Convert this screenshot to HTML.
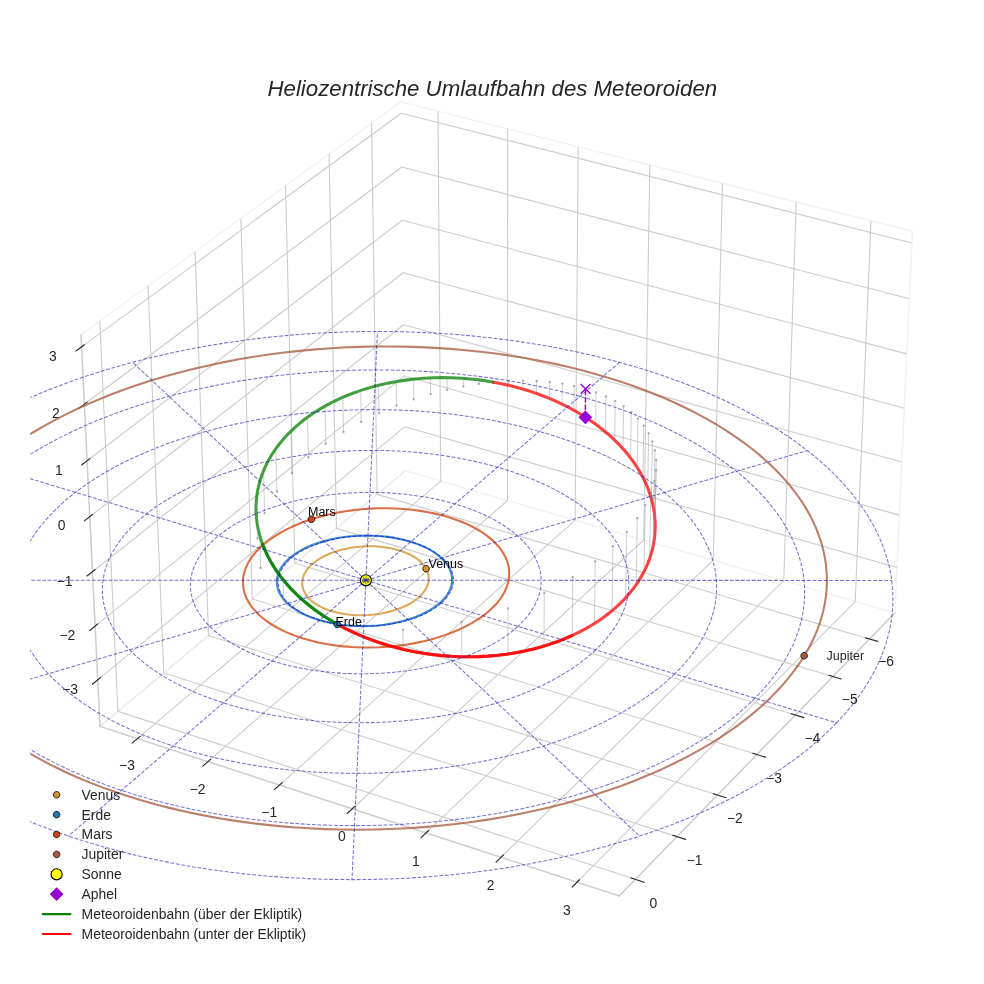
<!DOCTYPE html>
<html lang="de"><head><meta charset="utf-8"><title>Heliozentrische Umlaufbahn des Meteoroiden</title>
<style>html,body{margin:0;padding:0;background:#fff;}body{width:984px;height:984px;overflow:hidden;}svg{display:block;}</style>
</head><body>
<svg width="984" height="984" viewBox="0 0 708.48 708.48" version="1.1">
  <defs>
  <style type="text/css">*{stroke-linejoin: round; stroke-linecap: butt}</style>
 </defs>
 <g id="figure_1">
  <g id="patch_1">
   <path d="M 0 708.48 L 708.48 708.48 L 708.48 0 L 0 0 z
" style="fill: #ffffff"/>
  </g>
  <g id="patch_2">
   <path d="M 21.76 687.04 L 687.19 687.04 L 687.19 21.61 L 21.76 21.61 z
" style="fill: #ffffff"/>
  </g>
  <g id="pane3d_1">
   <g id="patch_3">
    <path d="M 291.81 338.96 L 72.00 522.97 L 58.31 241.03 L 288.73 73.35 " style="fill: none; stroke: #f2f2f2; stroke-linejoin: miter"/>
   </g>
  </g>
  <g id="pane3d_2">
   <g id="patch_4">
    <path d="M 291.81 338.96 L 644.27 441.32 L 656.95 166.47 L 288.73 73.35 " style="fill: none; stroke: #e6e6e6; stroke-opacity: 0.5; stroke-linejoin: miter"/>
   </g>
  </g>
  <g id="pane3d_3">
   <g id="patch_5">
    <path d="M 644.27 441.32 L 445.82 645.09 L 72.00 522.97 L 291.81 338.96 " style="fill: none; stroke: #ececec; stroke-linejoin: miter"/>
   </g>
  </g>
  <g id="grid3d_1">
   <g id="Line3DCollection_1">
    <path d="M 98.97 531.78 L 317.35 346.38 L 315.36 80.08 " style="fill: none; stroke: #cccccc; stroke-width: 0.8"/>
    <path d="M 149.77 548.38 L 365.39 360.33 L 365.48 92.76 " style="fill: none; stroke: #cccccc; stroke-width: 0.8"/>
    <path d="M 201.32 565.22 L 414.10 374.47 L 416.31 105.61 " style="fill: none; stroke: #cccccc; stroke-width: 0.8"/>
    <path d="M 253.65 582.31 L 463.47 388.81 L 467.87 118.65 " style="fill: none; stroke: #cccccc; stroke-width: 0.8"/>
    <path d="M 306.77 599.67 L 513.53 403.35 L 520.18 131.88 " style="fill: none; stroke: #cccccc; stroke-width: 0.8"/>
    <path d="M 360.70 617.29 L 564.29 418.09 L 573.25 145.30 " style="fill: none; stroke: #cccccc; stroke-width: 0.8"/>
    <path d="M 415.46 635.17 L 615.76 433.04 L 627.10 158.92 " style="fill: none; stroke: #cccccc; stroke-width: 0.8"/>
   </g>
  </g>
  <g id="grid3d_2">
   <g id="Line3DCollection_2">
    <path d="M 267.54 88.77 L 271.52 355.94 L 626.03 460.05 " style="fill: none; stroke: #cccccc; stroke-width: 0.8"/>
    <path d="M 236.95 111.04 L 242.26 380.44 L 599.69 487.10 " style="fill: none; stroke: #cccccc; stroke-width: 0.8"/>
    <path d="M 205.58 133.86 L 212.29 405.53 L 572.69 514.83 " style="fill: none; stroke: #cccccc; stroke-width: 0.8"/>
    <path d="M 173.42 157.26 L 181.60 431.22 L 544.99 543.26 " style="fill: none; stroke: #cccccc; stroke-width: 0.8"/>
    <path d="M 140.44 181.27 L 150.15 457.55 L 516.58 572.44 " style="fill: none; stroke: #cccccc; stroke-width: 0.8"/>
    <path d="M 106.59 205.90 L 117.91 484.54 L 487.42 602.38 " style="fill: none; stroke: #cccccc; stroke-width: 0.8"/>
    <path d="M 71.85 231.18 L 84.87 512.20 L 457.49 633.11 " style="fill: none; stroke: #cccccc; stroke-width: 0.8"/>
   </g>
  </g>
  <g id="grid3d_3">
   <g id="Line3DCollection_3">
    <path d="M 645.78 408.62 L 291.44 307.30 L 70.37 489.48 " style="fill: none; stroke: #cccccc; stroke-width: 0.8"/>
    <path d="M 647.52 370.87 L 291.02 270.77 L 68.50 450.80 " style="fill: none; stroke: #cccccc; stroke-width: 0.8"/>
    <path d="M 649.28 332.66 L 290.59 233.82 L 66.59 411.63 " style="fill: none; stroke: #cccccc; stroke-width: 0.8"/>
    <path d="M 651.07 293.97 L 290.16 196.42 L 64.67 371.94 " style="fill: none; stroke: #cccccc; stroke-width: 0.8"/>
    <path d="M 652.88 254.79 L 289.72 158.58 L 62.72 331.74 " style="fill: none; stroke: #cccccc; stroke-width: 0.8"/>
    <path d="M 654.71 215.12 L 289.28 120.28 L 60.74 291.01 " style="fill: none; stroke: #cccccc; stroke-width: 0.8"/>
    <path d="M 656.56 174.94 L 288.83 81.52 L 58.74 249.74 " style="fill: none; stroke: #cccccc; stroke-width: 0.8"/>
   </g>
  </g>
  <g id="axis3d_1">
   <g id="line2d_1">
    <path d="M 72.00 522.97 L 445.82 645.09 " style="fill: none; stroke: #cccccc; stroke-linecap: round"/>
   </g>
   <g id="xtick_1">
    <g id="line2d_2">
     <path d="M 363.46 345.34 " clip-path="url(#p9b2859fcdf)" style="fill: none; stroke: #cccccc; stroke-width: 0.8; stroke-linecap: round"/>
    </g>
    <g id="line2d_3">
     <path d="M 100.87 530.17 L 95.16 535.02 " style="fill: none; stroke: #262626; stroke-width: 0.8; stroke-linecap: round"/>
    </g>
    <g id="text_1">
     <text style="font-size: 10px; font-family: 'Liberation Sans', sans-serif; text-anchor: middle; fill: #262626" x="91.45" y="554.72" transform="rotate(-0 91.45 554.72)">−3</text>
    </g>
   </g>
   <g id="xtick_2">
    <g id="line2d_4">
     <path d="M 363.46 345.34 " clip-path="url(#p9b2859fcdf)" style="fill: none; stroke: #cccccc; stroke-width: 0.8; stroke-linecap: round"/>
    </g>
    <g id="line2d_5">
     <path d="M 151.65 546.74 L 146.00 551.66 " style="fill: none; stroke: #262626; stroke-width: 0.8; stroke-linecap: round"/>
    </g>
    <g id="text_2">
     <text style="font-size: 10px; font-family: 'Liberation Sans', sans-serif; text-anchor: middle; fill: #262626" x="142.27" y="571.45" transform="rotate(-0 142.27 571.45)">−2</text>
    </g>
   </g>
   <g id="xtick_3">
    <g id="line2d_6">
     <path d="M 363.46 345.34 " clip-path="url(#p9b2859fcdf)" style="fill: none; stroke: #cccccc; stroke-width: 0.8; stroke-linecap: round"/>
    </g>
    <g id="line2d_7">
     <path d="M 203.18 563.55 L 197.60 568.55 " style="fill: none; stroke: #262626; stroke-width: 0.8; stroke-linecap: round"/>
    </g>
    <g id="text_3">
     <text style="font-size: 10px; font-family: 'Liberation Sans', sans-serif; text-anchor: middle; fill: #262626" x="193.85" y="588.44" transform="rotate(-0 193.85 588.44)">−1</text>
    </g>
   </g>
   <g id="xtick_4">
    <g id="line2d_8">
     <path d="M 363.46 345.34 " clip-path="url(#p9b2859fcdf)" style="fill: none; stroke: #cccccc; stroke-width: 0.8; stroke-linecap: round"/>
    </g>
    <g id="line2d_9">
     <path d="M 255.48 580.62 L 249.97 585.70 " style="fill: none; stroke: #262626; stroke-width: 0.8; stroke-linecap: round"/>
    </g>
    <g id="text_4">
     <text style="font-size: 10px; font-family: 'Liberation Sans', sans-serif; text-anchor: middle; fill: #262626" x="246.20" y="605.68" transform="rotate(-0 246.20 605.68)">0</text>
    </g>
   </g>
   <g id="xtick_5">
    <g id="line2d_10">
     <path d="M 363.46 345.34 " clip-path="url(#p9b2859fcdf)" style="fill: none; stroke: #cccccc; stroke-width: 0.8; stroke-linecap: round"/>
    </g>
    <g id="line2d_11">
     <path d="M 308.57 597.95 L 303.15 603.10 " style="fill: none; stroke: #262626; stroke-width: 0.8; stroke-linecap: round"/>
    </g>
    <g id="text_5">
     <text style="font-size: 10px; font-family: 'Liberation Sans', sans-serif; text-anchor: middle; fill: #262626" x="299.34" y="623.18" transform="rotate(-0 299.34 623.18)">1</text>
    </g>
   </g>
   <g id="xtick_6">
    <g id="line2d_12">
     <path d="M 363.46 345.34 " clip-path="url(#p9b2859fcdf)" style="fill: none; stroke: #cccccc; stroke-width: 0.8; stroke-linecap: round"/>
    </g>
    <g id="line2d_13">
     <path d="M 362.48 615.54 L 357.13 620.78 " style="fill: none; stroke: #262626; stroke-width: 0.8; stroke-linecap: round"/>
    </g>
    <g id="text_6">
     <text style="font-size: 10px; font-family: 'Liberation Sans', sans-serif; text-anchor: middle; fill: #262626" x="353.30" y="640.95" transform="rotate(-0 353.30 640.95)">2</text>
    </g>
   </g>
   <g id="xtick_7">
    <g id="line2d_14">
     <path d="M 363.46 345.34 " clip-path="url(#p9b2859fcdf)" style="fill: none; stroke: #cccccc; stroke-width: 0.8; stroke-linecap: round"/>
    </g>
    <g id="line2d_15">
     <path d="M 417.21 633.41 L 411.95 638.72 " style="fill: none; stroke: #262626; stroke-width: 0.8; stroke-linecap: round"/>
    </g>
    <g id="text_7">
     <text style="font-size: 10px; font-family: 'Liberation Sans', sans-serif; text-anchor: middle; fill: #262626" x="408.09" y="659.00" transform="rotate(-0 408.09 659.00)">3</text>
    </g>
   </g>
  </g>
  <g id="axis3d_2">
   <g id="line2d_16">
    <path d="M 644.27 441.32 L 445.82 645.09 " style="fill: none; stroke: #cccccc; stroke-linecap: round"/>
   </g>
   <g id="xtick_8">
    <g id="line2d_17">
     <path d="M 363.46 345.34 " clip-path="url(#p9b2859fcdf)" style="fill: none; stroke: #cccccc; stroke-width: 0.8; stroke-linecap: round"/>
    </g>
    <g id="line2d_18">
     <path d="M 623.05 459.18 L 631.99 461.80 " style="fill: none; stroke: #262626; stroke-width: 0.8; stroke-linecap: round"/>
    </g>
    <g id="text_8">
     <text style="font-size: 10px; font-family: 'Liberation Sans', sans-serif; text-anchor: middle; fill: #262626" x="638.01" y="479.70" transform="rotate(-0 638.01 479.70)">−6</text>
    </g>
   </g>
   <g id="xtick_9">
    <g id="line2d_19">
     <path d="M 363.46 345.34 " clip-path="url(#p9b2859fcdf)" style="fill: none; stroke: #cccccc; stroke-width: 0.8; stroke-linecap: round"/>
    </g>
    <g id="line2d_20">
     <path d="M 596.69 486.20 L 605.70 488.89 " style="fill: none; stroke: #262626; stroke-width: 0.8; stroke-linecap: round"/>
    </g>
    <g id="text_9">
     <text style="font-size: 10px; font-family: 'Liberation Sans', sans-serif; text-anchor: middle; fill: #262626" x="611.81" y="506.91" transform="rotate(-0 611.81 506.91)">−5</text>
    </g>
   </g>
   <g id="xtick_10">
    <g id="line2d_21">
     <path d="M 363.46 345.34 " clip-path="url(#p9b2859fcdf)" style="fill: none; stroke: #cccccc; stroke-width: 0.8; stroke-linecap: round"/>
    </g>
    <g id="line2d_22">
     <path d="M 569.65 513.91 L 578.75 516.67 " style="fill: none; stroke: #262626; stroke-width: 0.8; stroke-linecap: round"/>
    </g>
    <g id="text_10">
     <text style="font-size: 10px; font-family: 'Liberation Sans', sans-serif; text-anchor: middle; fill: #262626" x="584.95" y="534.81" transform="rotate(-0 584.95 534.81)">−4</text>
    </g>
   </g>
   <g id="xtick_11">
    <g id="line2d_23">
     <path d="M 363.46 345.34 " clip-path="url(#p9b2859fcdf)" style="fill: none; stroke: #cccccc; stroke-width: 0.8; stroke-linecap: round"/>
    </g>
    <g id="line2d_24">
     <path d="M 541.93 542.32 L 551.12 545.15 " style="fill: none; stroke: #262626; stroke-width: 0.8; stroke-linecap: round"/>
    </g>
    <g id="text_11">
     <text style="font-size: 10px; font-family: 'Liberation Sans', sans-serif; text-anchor: middle; fill: #262626" x="557.41" y="563.41" transform="rotate(-0 557.41 563.41)">−3</text>
    </g>
   </g>
   <g id="xtick_12">
    <g id="line2d_25">
     <path d="M 363.46 345.34 " clip-path="url(#p9b2859fcdf)" style="fill: none; stroke: #cccccc; stroke-width: 0.8; stroke-linecap: round"/>
    </g>
    <g id="line2d_26">
     <path d="M 513.49 571.47 L 522.76 574.38 " style="fill: none; stroke: #262626; stroke-width: 0.8; stroke-linecap: round"/>
    </g>
    <g id="text_12">
     <text style="font-size: 10px; font-family: 'Liberation Sans', sans-serif; text-anchor: middle; fill: #262626" x="529.15" y="592.76" transform="rotate(-0 529.15 592.76)">−2</text>
    </g>
   </g>
   <g id="xtick_13">
    <g id="line2d_27">
     <path d="M 363.46 345.34 " clip-path="url(#p9b2859fcdf)" style="fill: none; stroke: #cccccc; stroke-width: 0.8; stroke-linecap: round"/>
    </g>
    <g id="line2d_28">
     <path d="M 484.31 601.39 L 493.66 604.37 " style="fill: none; stroke: #262626; stroke-width: 0.8; stroke-linecap: round"/>
    </g>
    <g id="text_13">
     <text style="font-size: 10px; font-family: 'Liberation Sans', sans-serif; text-anchor: middle; fill: #262626" x="500.15" y="622.88" transform="rotate(-0 500.15 622.88)">−1</text>
    </g>
   </g>
   <g id="xtick_14">
    <g id="line2d_29">
     <path d="M 363.46 345.34 " clip-path="url(#p9b2859fcdf)" style="fill: none; stroke: #cccccc; stroke-width: 0.8; stroke-linecap: round"/>
    </g>
    <g id="line2d_30">
     <path d="M 454.35 632.10 L 463.78 635.16 " style="fill: none; stroke: #262626; stroke-width: 0.8; stroke-linecap: round"/>
    </g>
    <g id="text_14">
     <text style="font-size: 10px; font-family: 'Liberation Sans', sans-serif; text-anchor: middle; fill: #262626" x="470.38" y="653.80" transform="rotate(-0 470.38 653.80)">0</text>
    </g>
   </g>
  </g>
  <g id="axis3d_3">
   <g id="line2d_31">
    <path d="M 72.00 522.97 L 58.31 241.03 " style="fill: none; stroke: #cccccc; stroke-linecap: round"/>
   </g>
   <g id="xtick_15">
    <g id="line2d_32">
     <path d="M 363.46 345.34 " style="fill: none; stroke: #cccccc; stroke-width: 0.8; stroke-linecap: round"/>
    </g>
    <g id="line2d_33">
     <path d="M 72.30 487.89 L 66.51 492.66 " style="fill: none; stroke: #262626; stroke-width: 0.8; stroke-linecap: round"/>
    </g>
    <g id="text_15">
     <text style="font-size: 10px; font-family: 'Liberation Sans', sans-serif; text-anchor: middle; fill: #262626" x="50.53" y="499.51" transform="rotate(-0 50.53 499.51)">−3</text>
    </g>
   </g>
   <g id="xtick_16">
    <g id="line2d_34">
     <path d="M 363.46 345.34 " style="fill: none; stroke: #cccccc; stroke-width: 0.8; stroke-linecap: round"/>
    </g>
    <g id="line2d_35">
     <path d="M 70.44 449.23 L 64.61 453.95 " style="fill: none; stroke: #262626; stroke-width: 0.8; stroke-linecap: round"/>
    </g>
    <g id="text_16">
     <text style="font-size: 10px; font-family: 'Liberation Sans', sans-serif; text-anchor: middle; fill: #262626" x="48.52" y="460.81" transform="rotate(-0 48.52 460.81)">−2</text>
    </g>
   </g>
   <g id="xtick_17">
    <g id="line2d_36">
     <path d="M 363.46 345.34 " style="fill: none; stroke: #cccccc; stroke-width: 0.8; stroke-linecap: round"/>
    </g>
    <g id="line2d_37">
     <path d="M 68.55 410.07 L 62.68 414.73 " style="fill: none; stroke: #262626; stroke-width: 0.8; stroke-linecap: round"/>
    </g>
    <g id="text_17">
     <text style="font-size: 10px; font-family: 'Liberation Sans', sans-serif; text-anchor: middle; fill: #262626" x="46.49" y="421.60" transform="rotate(-0 46.49 421.60)">−1</text>
    </g>
   </g>
   <g id="xtick_18">
    <g id="line2d_38">
     <path d="M 363.46 345.34 " style="fill: none; stroke: #cccccc; stroke-width: 0.8; stroke-linecap: round"/>
    </g>
    <g id="line2d_39">
     <path d="M 66.64 370.41 L 60.72 375.01 " style="fill: none; stroke: #262626; stroke-width: 0.8; stroke-linecap: round"/>
    </g>
    <g id="text_18">
     <text style="font-size: 10px; font-family: 'Liberation Sans', sans-serif; text-anchor: middle; fill: #262626" x="44.43" y="381.88" transform="rotate(-0 44.43 381.88)">0</text>
    </g>
   </g>
   <g id="xtick_19">
    <g id="line2d_40">
     <path d="M 363.46 345.34 " style="fill: none; stroke: #cccccc; stroke-width: 0.8; stroke-linecap: round"/>
    </g>
    <g id="line2d_41">
     <path d="M 64.70 330.23 L 58.74 334.77 " style="fill: none; stroke: #262626; stroke-width: 0.8; stroke-linecap: round"/>
    </g>
    <g id="text_19">
     <text style="font-size: 10px; font-family: 'Liberation Sans', sans-serif; text-anchor: middle; fill: #262626" x="42.34" y="341.64" transform="rotate(-0 42.34 341.64)">1</text>
    </g>
   </g>
   <g id="xtick_20">
    <g id="line2d_42">
     <path d="M 363.46 345.34 " style="fill: none; stroke: #cccccc; stroke-width: 0.8; stroke-linecap: round"/>
    </g>
    <g id="line2d_43">
     <path d="M 62.74 289.51 L 56.74 294.00 " style="fill: none; stroke: #262626; stroke-width: 0.8; stroke-linecap: round"/>
    </g>
    <g id="text_20">
     <text style="font-size: 10px; font-family: 'Liberation Sans', sans-serif; text-anchor: middle; fill: #262626" x="40.23" y="300.87" transform="rotate(-0 40.23 300.87)">2</text>
    </g>
   </g>
   <g id="xtick_21">
    <g id="line2d_44">
     <path d="M 363.46 345.34 " style="fill: none; stroke: #cccccc; stroke-width: 0.8; stroke-linecap: round"/>
    </g>
    <g id="line2d_45">
     <path d="M 60.75 248.27 L 54.70 252.69 " style="fill: none; stroke: #262626; stroke-width: 0.8; stroke-linecap: round"/>
    </g>
    <g id="text_21">
     <text style="font-size: 10px; font-family: 'Liberation Sans', sans-serif; text-anchor: middle; fill: #262626" x="38.09" y="259.57" transform="rotate(-0 38.09 259.57)">3</text>
    </g>
   </g>
  </g>
  <g id="axes_1">
   <g id="line2d_46">
        <g clip-path="url(#p9b2859fcdf)">
     <path d="M 0 4 C 1.06 4 2.07 3.57 2.82 2.82 C 3.57 2.07 4 1.06 4 0 C 4 -1.06 3.57 -2.07 2.82 -2.82 C 2.07 -3.57 1.06 -4 0 -4 C -1.06 -4 -2.07 -3.57 -2.82 -2.82 C -3.57 -2.07 -4 -1.06 -4 0 C -4 1.06 -3.57 2.07 -2.82 2.82 C -2.07 3.57 -1.06 4 0 4 z
" transform="translate(263.45 417.84)" style="fill: #ffff00; stroke: #000000; stroke-width: 0.8; stroke: #000000; stroke-width: 0.8"/>
    </g>
   </g>
   <g id="line2d_47">
    <path d="M 307.91 411.76 L 307.21 410.11 L 306.30 408.50 L 305.18 406.94 L 303.68 405.26 L 301.94 403.65 L 299.97 402.12 L 297.77 400.70 L 295.09 399.24 L 292.18 397.92 L 289.05 396.75 L 285.73 395.74 L 282.24 394.90 L 278.24 394.17 L 274.10 393.66 L 269.87 393.36 L 265.57 393.29 L 261.25 393.44 L 256.94 393.81 L 252.68 394.40 L 248.52 395.21 L 244.48 396.22 L 240.61 397.44 L 237.26 398.71 L 234.10 400.12 L 231.16 401.68 L 228.46 403.36 L 226.02 405.15 L 224.06 406.86 L 222.34 408.63 L 220.86 410.46 L 219.65 412.35 L 218.80 414.05 L 218.17 415.78 L 217.75 417.52 L 217.56 419.27 L 217.60 421.01 L 217.86 422.74 L 218.34 424.45 L 219.05 426.12 L 219.97 427.76 L 221.11 429.35 L 222.47 430.89 L 224.23 432.55 L 226.24 434.11 L 228.49 435.57 L 230.95 436.93 L 233.93 438.29 L 237.14 439.50 L 240.55 440.54 L 244.13 441.41 L 247.87 442.09 L 251.72 442.59 L 256.07 442.92 L 260.47 443.01 L 264.90 442.86 L 269.31 442.49 L 273.66 441.88 L 277.90 441.05 L 282.00 440.01 L 285.58 438.89 L 288.97 437.61 L 292.17 436.17 L 295.13 434.61 L 297.85 432.91 L 300.30 431.11 L 302.26 429.40 L 303.98 427.63 L 305.44 425.80 L 306.65 423.92 L 307.49 422.23 L 308.12 420.52 L 308.53 418.79 L 308.72 417.07 L 308.70 415.35 L 308.45 413.64 L 307.99 411.96 L 307.91 411.76 L 307.91 411.76 " clip-path="url(#p9b2859fcdf)" style="fill: none; stroke: #d2922c; stroke-opacity: 0.78; stroke-width: 1.5; stroke-linecap: round"/>
   </g>
   <g id="line2d_48">
    <path d="M 322.58 427.30 L 323.62 425.39 L 324.44 423.46 L 325.04 421.52 L 325.40 419.56 L 325.54 417.60 L 325.45 415.64 L 325.13 413.70 L 324.59 411.77 L 323.82 409.86 L 322.83 407.98 L 321.63 406.15 L 320.21 404.35 L 318.34 402.36 L 316.20 400.45 L 313.82 398.61 L 311.19 396.87 L 308.33 395.23 L 304.86 393.52 L 301.13 391.94 L 297.17 390.53 L 293.01 389.28 L 288.65 388.20 L 284.14 387.29 L 279.49 386.57 L 274.74 386.04 L 269.36 385.68 L 263.93 385.56 L 258.47 385.68 L 253.04 386.05 L 247.67 386.65 L 242.93 387.40 L 238.30 388.34 L 233.80 389.47 L 229.48 390.77 L 225.36 392.24 L 221.45 393.88 L 217.80 395.67 L 214.78 397.38 L 211.99 399.19 L 209.45 401.10 L 207.17 403.10 L 205.15 405.18 L 203.63 407.05 L 202.32 408.96 L 201.25 410.92 L 200.40 412.90 L 199.80 414.90 L 199.43 416.92 L 199.31 418.94 L 199.43 420.97 L 199.80 422.98 L 200.40 424.97 L 201.25 426.94 L 202.33 428.88 L 203.65 430.77 L 205.19 432.62 L 206.96 434.41 L 209.24 436.38 L 211.79 438.26 L 214.59 440.04 L 217.64 441.70 L 220.92 443.25 L 224.40 444.66 L 228.54 446.10 L 232.90 447.35 L 237.44 448.42 L 242.13 449.30 L 246.96 449.97 L 251.87 450.45 L 256.84 450.72 L 261.85 450.78 L 266.85 450.64 L 271.82 450.30 L 276.72 449.76 L 281.52 449.01 L 286.20 448.08 L 290.73 446.97 L 295.07 445.68 L 299.21 444.22 L 303.11 442.60 L 306.76 440.83 L 310.13 438.93 L 312.88 437.14 L 315.39 435.26 L 317.63 433.29 L 319.62 431.26 L 321.32 429.17 L 322.58 427.30 L 322.58 427.30 " clip-path="url(#p9b2859fcdf)" style="fill: none; stroke: #1f77b4; stroke-opacity: 0.85; stroke-width: 1.5; stroke-linecap: round"/>
   </g>
   <g id="line2d_49">
    <path d="M 190.95 446.42 L 194.06 448.62 L 197.43 450.72 L 201.03 452.72 L 204.87 454.60 L 208.93 456.36 L 213.19 458.00 L 218.31 459.71 L 223.67 461.23 L 229.25 462.57 L 235.04 463.71 L 241.00 464.65 L 247.13 465.38 L 253.38 465.89 L 259.75 466.18 L 266.20 466.24 L 272.70 466.07 L 279.23 465.67 L 285.76 465.04 L 292.25 464.17 L 298.68 463.06 L 305.01 461.72 L 310.44 460.36 L 315.75 458.82 L 320.91 457.11 L 325.90 455.23 L 330.70 453.19 L 335.29 450.99 L 339.64 448.65 L 343.74 446.16 L 347.03 443.92 L 350.10 441.59 L 352.94 439.18 L 355.55 436.68 L 357.90 434.11 L 359.99 431.48 L 361.80 428.80 L 363.34 426.07 L 364.41 423.76 L 365.27 421.43 L 365.92 419.09 L 366.37 416.73 L 366.61 414.37 L 366.63 412.01 L 366.44 409.66 L 366.04 407.32 L 365.42 404.99 L 364.59 402.69 L 363.55 400.42 L 362.31 398.18 L 360.85 395.98 L 359.20 393.83 L 356.95 391.31 L 354.42 388.87 L 351.63 386.53 L 348.58 384.28 L 345.28 382.13 L 341.74 380.10 L 337.99 378.18 L 334.03 376.39 L 329.87 374.73 L 324.80 372.96 L 319.51 371.38 L 314.03 369.99 L 308.39 368.81 L 302.61 367.82 L 296.72 367.05 L 290.74 366.47 L 284.71 366.11 L 278.65 365.94 L 272.58 365.98 L 266.54 366.22 L 260.54 366.66 L 254.61 367.28 L 248.77 368.10 L 242.24 369.25 L 236.67 370.44 L 231.26 371.79 L 226.02 373.30 L 220.97 374.97 L 216.12 376.77 L 211.50 378.71 L 207.11 380.77 L 202.97 382.95 L 199.09 385.23 L 195.47 387.61 L 192.12 390.08 L 189.06 392.62 L 186.29 395.24 L 183.81 397.91 L 181.93 400.25 L 180.26 402.61 L 178.82 405.01 L 177.61 407.42 L 176.62 409.84 L 175.86 412.28 L 175.32 414.72 L 175.02 417.16 L 174.94 419.59 L 175.08 422.01 L 175.45 424.41 L 176.04 426.80 L 176.85 429.15 L 177.88 431.47 L 179.13 433.75 L 180.59 436.00 L 182.25 438.19 L 184.13 440.34 L 186.57 442.77 L 189.28 445.12 L 190.95 446.42 L 190.95 446.42 " clip-path="url(#p9b2859fcdf)" style="fill: none; stroke: #d1450f; stroke-opacity: 0.78; stroke-width: 1.5; stroke-linecap: round"/>
   </g>
   <g id="line2d_50">
    <path d="M 164.88 590.30 L 176.12 591.95 L 187.48 593.39 L 198.95 594.62 L 210.52 595.62 L 222.16 596.40 L 233.88 596.95 L 245.64 597.28 L 257.44 597.39 L 269.26 597.27 L 281.08 596.92 L 292.89 596.35 L 304.67 595.55 L 316.40 594.53 L 328.07 593.28 L 339.67 591.82 L 351.18 590.13 L 362.57 588.22 L 373.85 586.10 L 384.98 583.77 L 395.97 581.22 L 406.78 578.47 L 417.41 575.52 L 427.85 572.37 L 438.07 569.02 L 448.07 565.49 L 457.83 561.77 L 467.34 557.88 L 476.59 553.81 L 485.56 549.57 L 494.25 545.17 L 502.63 540.61 L 510.71 535.90 L 518.46 531.05 L 525.89 526.06 L 531.24 522.24 L 536.39 518.34 L 541.35 514.38 L 546.11 510.35 L 550.66 506.26 L 555.00 502.12 L 559.13 497.92 L 563.05 493.67 L 566.75 489.37 L 570.24 485.03 L 573.51 480.64 L 576.55 476.22 L 579.37 471.76 L 581.97 467.27 L 584.33 462.75 L 586.47 458.21 L 588.38 453.65 L 590.07 449.07 L 591.52 444.47 L 592.73 439.86 L 593.72 435.25 L 594.48 430.63 L 595.00 426.01 L 595.30 421.39 L 595.36 416.77 L 595.19 412.17 L 594.79 407.57 L 594.16 402.99 L 593.31 398.43 L 592.23 393.89 L 590.92 389.38 L 589.39 384.89 L 587.64 380.44 L 585.66 376.02 L 583.47 371.63 L 581.07 367.29 L 578.44 362.98 L 575.61 358.73 L 572.57 354.52 L 569.32 350.36 L 565.87 346.25 L 562.22 342.21 L 558.37 338.22 L 554.32 334.29 L 550.09 330.43 L 545.66 326.63 L 541.06 322.90 L 536.27 319.25 L 529.61 314.49 L 522.64 309.86 L 515.38 305.38 L 507.84 301.04 L 500.01 296.86 L 491.92 292.82 L 483.57 288.95 L 474.98 285.24 L 466.15 281.69 L 457.10 278.32 L 447.83 275.12 L 438.36 272.10 L 428.70 269.25 L 418.87 266.59 L 408.86 264.11 L 398.70 261.82 L 388.40 259.72 L 377.97 257.82 L 367.41 256.10 L 356.75 254.58 L 346.00 253.25 L 335.16 252.12 L 324.25 251.19 L 313.28 250.46 L 302.27 249.92 L 291.22 249.59 L 280.16 249.45 L 269.08 249.51 L 258.01 249.77 L 246.95 250.23 L 235.92 250.89 L 224.93 251.74 L 213.99 252.79 L 203.11 254.03 L 192.31 255.46 L 181.60 257.09 L 170.99 258.90 L 160.49 260.90 L 150.10 263.09 L 139.86 265.45 L 129.76 268.00 L 119.81 270.72 L 110.03 273.62 L 100.43 276.69 L 91.01 279.93 L 81.80 283.33 L 72.79 286.89 L 64.00 290.60 L 55.45 294.47 L 47.13 298.49 L 39.06 302.65 L 31.24 306.96 L 23.69 311.39 L 16.42 315.96 L 9.43 320.66 L 2.74 325.47 L -1 328.32 M -1 527.67 L 2.63 530.31 L 7.83 533.90 L 15.05 538.58 L 22.59 543.11 L 30.44 547.50 L 38.60 551.74 L 47.06 555.82 L 55.80 559.75 L 64.83 563.50 L 74.11 567.08 L 83.65 570.48 L 93.44 573.70 L 103.45 576.73 L 113.69 579.57 L 124.13 582.21 L 134.76 584.65 L 145.57 586.89 L 156.55 588.91 L 164.88 590.30 L 164.88 590.30 " clip-path="url(#p9b2859fcdf)" style="fill: none; stroke: #a95c40; stroke-opacity: 0.78; stroke-width: 1.5; stroke-linecap: round"/>
   </g>
   <g id="line2d_51">
    <path d="M 412.01 457.55 L 406.72 459.85 L 401.35 461.95 L 395.63 463.94 L 389.85 465.72 L 383.71 467.36 L 377.54 468.78 L 371.39 469.98 L 364.88 471.01 L 358.44 471.80 L 351.63 472.41 L 344.95 472.78 L 338.43 472.92 L 331.61 472.85 L 325.03 472.57 L 318.18 472.05 L 311.65 471.34 L 304.89 470.38 L 298.56 469.28 L 292.05 467.93 L 285.38 466.31 L 279.26 464.60 L 273.06 462.65 L 266.80 460.44 L 260.51 457.96 L 254.95 455.54 L 249.43 452.90 L 243.99 450.05 L 242.65 449.31 L 242.65 449.31 " clip-path="url(#p9b2859fcdf)" style="fill: none; stroke: #ff0000; stroke-opacity: 0.75; stroke-width: 2.2; stroke-linecap: round"/>
   </g>
   <g id="line2d_52">
    <path d="M 242.65 449.31 L 237.38 446.22 L 232.27 442.96 L 227.37 439.53 L 222.70 435.98 L 218.29 432.31 L 214.17 428.56 L 210.34 424.76 L 206.81 420.92 L 203.59 417.07 L 200.67 413.23 L 198.04 409.42 L 195.69 405.66 L 193.37 401.49 L 191.37 397.40 L 189.67 393.41 L 188.24 389.51 L 186.95 385.30 L 185.95 381.23 L 185.21 377.29 L 184.70 373.48 L 184.39 369.43 L 184.31 365.54 L 184.46 361.47 L 184.82 357.56 L 185.44 353.51 L 186.26 349.64 L 187.34 345.67 L 188.60 341.88 L 190.13 338.02 L 191.82 334.36 L 193.77 330.65 L 196.00 326.91 L 198.36 323.39 L 200.99 319.86 L 203.89 316.35 L 207.05 312.89 L 210.30 309.64 L 213.81 306.45 L 217.57 303.33 L 221.57 300.29 L 225.81 297.36 L 230.28 294.53 L 234.97 291.83 L 239.88 289.27 L 244.99 286.85 L 250.30 284.59 L 255.80 282.48 L 261.48 280.55 L 267.32 278.80 L 273.32 277.23 L 279.46 275.85 L 285.74 274.67 L 292.14 273.69 L 298.66 272.92 L 305.28 272.36 L 311.99 272.02 L 318.78 271.90 L 325.47 272.01 L 332.22 272.33 L 339.02 272.88 L 345.69 273.65 L 352.40 274.64 L 355.32 275.14 L 355.32 275.14 " clip-path="url(#p9b2859fcdf)" style="fill: none; stroke: #008000; stroke-opacity: 0.75; stroke-width: 2.2; stroke-linecap: round"/>
   </g>
   <g id="line2d_53">
    <path d="M 355.32 275.14 L 361.98 276.45 L 368.49 277.96 L 374.86 279.66 L 381.21 281.58 L 387.40 283.70 L 393.42 285.99 L 399.26 288.45 L 404.94 291.09 L 410.43 293.88 L 415.74 296.84 L 420.75 299.88 L 425.57 303.07 L 430.20 306.40 L 434.53 309.78 L 438.68 313.30 L 442.53 316.86 L 446.18 320.54 L 449.56 324.25 L 452.73 328.07 L 455.62 331.90 L 458.25 335.73 L 460.67 339.66 L 462.83 343.59 L 464.78 347.60 L 466.47 351.59 L 467.90 355.55 L 469.13 359.58 L 470.11 363.58 L 470.86 367.53 L 471.39 371.54 L 471.68 375.49 L 471.76 379.51 L 471.61 383.45 L 471.24 387.32 L 470.64 391.23 L 469.84 395.06 L 468.80 398.93 L 467.55 402.71 L 466.06 406.51 L 464.38 410.21 L 462.44 413.93 L 460.31 417.53 L 457.91 421.15 L 455.33 424.65 L 452.47 428.14 L 449.44 431.50 L 446.12 434.85 L 442.63 438.05 L 438.84 441.22 L 434.90 444.24 L 430.63 447.22 L 426.23 450.03 L 421.49 452.78 L 416.62 455.34 L 411.65 457.71 L 406.34 460.01 L 400.95 462.09 L 395.20 464.08 L 389.40 465.85 L 383.58 467.40 L 377.40 468.81 L 371.24 470.00 L 364.72 471.03 L 358.27 471.82 L 351.46 472.42 L 344.76 472.78 L 338.24 472.92 L 331.41 472.84 L 324.82 472.55 L 317.96 472.03 L 311.42 471.31 L 304.66 470.35 L 298.32 469.23 L 291.80 467.87 L 285.12 466.24 L 279.00 464.53 L 272.80 462.56 L 266.53 460.34 L 260.25 457.85 L 254.69 455.42 L 249.17 452.77 L 243.74 449.91 L 242.40 449.17 L 242.40 449.17 " clip-path="url(#p9b2859fcdf)" style="fill: none; stroke: #ff0000; stroke-opacity: 0.75; stroke-width: 2.2; stroke-linecap: round"/>
   </g>
   <g id="line2d_54">
    <path d="M 242.40 449.17 L 241.73 448.79 L 241.07 448.41 L 240.41 448.03 L 239.75 447.64 L 239.09 447.25 L 238.44 446.86 L 237.78 446.47 L 237.13 446.07 L 236.49 445.67 L 235.84 445.27 L 235.20 444.86 L 234.56 444.46 L 233.92 444.05 L 233.29 443.63 L 232.66 443.22 L 232.03 442.80 L 231.41 442.38 L 230.79 441.96 L 230.17 441.53 L 229.56 441.10 L 228.95 440.67 L 228.34 440.24 L 227.74 439.81 L 227.14 439.37 L 226.55 438.93 L 225.96 438.49 L 225.37 438.05 L 224.78 437.60 L 224.20 437.16 L 223.63 436.71 L 223.05 436.26 L 222.49 435.81 L 221.92 435.35 L 221.36 434.90 L 220.81 434.44 L 220.26 433.98 L 219.71 433.52 L 219.17 433.06 L 218.63 432.60 L 218.09 432.14 L 217.56 431.67 L 217.04 431.21 L 216.52 430.74 L 216.00 430.27 L 215.49 429.80 L 214.98 429.33 L 214.48 428.86 L 213.98 428.38 L 213.49 427.91 L 213.00 427.44 L 212.52 426.96 L 212.04 426.49 L 211.56 426.01 L 211.09 425.53 L 210.63 425.05 L 210.17 424.58 L 209.71 424.10 L 209.26 423.62 L 208.81 423.14 L 208.37 422.66 L 207.94 422.18 L 207.50 421.70 L 207.08 421.22 L 206.65 420.74 L 206.24 420.26 L 205.82 419.77 L 205.42 419.29 L 205.01 418.81 L 204.61 418.33 L 204.22 417.85 L 203.83 417.37 L 203.45 416.89 L 203.07 416.41 L 202.69 415.93 L 202.32 415.45 L 201.96 414.97 L 201.59 414.49 L 201.24 414.01 L 200.89 413.53 L 200.54 413.05 L 200.20 412.57 L 199.86 412.10 L 199.52 411.62 L 199.19 411.14 L 198.87 410.67 L 198.55 410.19 L 198.23 409.72 L 197.92 409.25 L 197.62 408.77 L 197.31 408.30 L 197.02 407.83 L 196.72 407.36 L 196.43 406.89 L 196.15 406.42 L 195.87 405.95 L 195.59 405.48 L 195.32 405.01 L 195.05 404.55 L 194.78 404.08 L 194.52 403.62 L 194.27 403.16 L 194.01 402.69 L 193.77 402.23 L 193.52 401.77 L 193.28 401.31 L 193.05 400.86 L 192.81 400.40 L 192.59 399.94 L 192.36 399.49 L 192.14 399.04 L 191.92 398.58 L 191.71 398.13 L 191.50 397.68 L 191.29 397.23 L 191.09 396.78 L 190.89 396.34 L 190.70 395.89 L 190.51 395.45 L 190.32 395.00 L 190.14 394.56 L 189.96 394.12 L 189.78 393.68 L 189.60 393.24 L 189.43 392.80 L 189.27 392.37 L 189.10 391.93 " clip-path="url(#p9b2859fcdf)" style="fill: none; stroke: #008000; stroke-opacity: 0.75; stroke-width: 2.2; stroke-linecap: round"/>
   </g>
   <g id="line2d_55">
    <path d="M 412.01 457.55 L 412.34 415.43 " clip-path="url(#p9b2859fcdf)" style="fill: none; stroke: #808080; stroke-opacity: 0.5; stroke-width: 0.55; stroke-linecap: round"/>
   </g>
   <g id="line2d_56">
    <path d="M 391.68 465.18 L 391.86 426.86 " clip-path="url(#p9b2859fcdf)" style="fill: none; stroke: #808080; stroke-opacity: 0.5; stroke-width: 0.55; stroke-linecap: round"/>
   </g>
   <g id="line2d_57">
    <path d="M 365.77 470.88 L 365.78 437.99 " clip-path="url(#p9b2859fcdf)" style="fill: none; stroke: #808080; stroke-opacity: 0.5; stroke-width: 0.55; stroke-linecap: round"/>
   </g>
   <g id="line2d_58">
    <path d="M 332.52 472.87 L 332.39 447.73 " clip-path="url(#p9b2859fcdf)" style="fill: none; stroke: #808080; stroke-opacity: 0.5; stroke-width: 0.55; stroke-linecap: round"/>
   </g>
   <g id="line2d_59">
    <path d="M 290.24 467.51 L 290.07 453.39 " clip-path="url(#p9b2859fcdf)" style="fill: none; stroke: #808080; stroke-opacity: 0.5; stroke-width: 0.55; stroke-linecap: round"/>
   </g>
   <g id="line2d_60">
    <path d="M 241.88 448.87 L 241.88 449.26 " clip-path="url(#p9b2859fcdf)" style="fill: none; stroke: #808080; stroke-opacity: 0.5; stroke-width: 0.55; stroke-linecap: round"/>
   </g>
   <g id="line2d_61">
    <path d="M 203.75 417.26 L 204.13 431.76 " clip-path="url(#p9b2859fcdf)" style="fill: none; stroke: #808080; stroke-opacity: 0.5; stroke-width: 0.55; stroke-linecap: round"/>
   </g>
   <g id="line2d_62">
    <path d="M 186.95 385.29 L 187.63 408.89 " clip-path="url(#p9b2859fcdf)" style="fill: none; stroke: #808080; stroke-opacity: 0.5; stroke-width: 0.55; stroke-linecap: round"/>
   </g>
   <g id="line2d_63">
    <path d="M 184.63 359.34 L 185.45 387.64 " clip-path="url(#p9b2859fcdf)" style="fill: none; stroke: #808080; stroke-opacity: 0.5; stroke-width: 0.55; stroke-linecap: round"/>
   </g>
   <g id="line2d_64">
    <path d="M 189.69 339.06 L 190.55 369.38 " clip-path="url(#p9b2859fcdf)" style="fill: none; stroke: #808080; stroke-opacity: 0.5; stroke-width: 0.55; stroke-linecap: round"/>
   </g>
   <g id="line2d_65">
    <path d="M 198.55 323.12 L 199.37 353.86 " clip-path="url(#p9b2859fcdf)" style="fill: none; stroke: #808080; stroke-opacity: 0.5; stroke-width: 0.55; stroke-linecap: round"/>
   </g>
   <g id="line2d_66">
    <path d="M 209.44 310.47 L 210.19 340.60 " clip-path="url(#p9b2859fcdf)" style="fill: none; stroke: #808080; stroke-opacity: 0.5; stroke-width: 0.55; stroke-linecap: round"/>
   </g>
   <g id="line2d_67">
    <path d="M 221.43 300.40 L 222.09 329.23 " clip-path="url(#p9b2859fcdf)" style="fill: none; stroke: #808080; stroke-opacity: 0.5; stroke-width: 0.55; stroke-linecap: round"/>
   </g>
   <g id="line2d_68">
    <path d="M 234.00 292.37 L 234.56 319.43 " clip-path="url(#p9b2859fcdf)" style="fill: none; stroke: #808080; stroke-opacity: 0.5; stroke-width: 0.55; stroke-linecap: round"/>
   </g>
   <g id="line2d_69">
    <path d="M 246.83 286.04 L 247.30 310.98 " clip-path="url(#p9b2859fcdf)" style="fill: none; stroke: #808080; stroke-opacity: 0.5; stroke-width: 0.55; stroke-linecap: round"/>
   </g>
   <g id="line2d_70">
    <path d="M 259.74 281.12 L 260.11 303.69 " clip-path="url(#p9b2859fcdf)" style="fill: none; stroke: #808080; stroke-opacity: 0.5; stroke-width: 0.55; stroke-linecap: round"/>
   </g>
   <g id="line2d_71">
    <path d="M 272.58 277.41 L 272.87 297.42 " clip-path="url(#p9b2859fcdf)" style="fill: none; stroke: #808080; stroke-opacity: 0.5; stroke-width: 0.55; stroke-linecap: round"/>
   </g>
   <g id="line2d_72">
    <path d="M 285.27 274.75 L 285.48 292.07 " clip-path="url(#p9b2859fcdf)" style="fill: none; stroke: #808080; stroke-opacity: 0.5; stroke-width: 0.55; stroke-linecap: round"/>
   </g>
   <g id="line2d_73">
    <path d="M 297.75 273.01 L 297.90 287.53 " clip-path="url(#p9b2859fcdf)" style="fill: none; stroke: #808080; stroke-opacity: 0.5; stroke-width: 0.55; stroke-linecap: round"/>
   </g>
   <g id="line2d_74">
    <path d="M 309.97 272.10 L 310.07 283.75 " clip-path="url(#p9b2859fcdf)" style="fill: none; stroke: #808080; stroke-opacity: 0.5; stroke-width: 0.55; stroke-linecap: round"/>
   </g>
   <g id="line2d_75">
    <path d="M 321.91 271.92 L 321.97 280.66 " clip-path="url(#p9b2859fcdf)" style="fill: none; stroke: #808080; stroke-opacity: 0.5; stroke-width: 0.55; stroke-linecap: round"/>
   </g>
   <g id="line2d_76">
    <path d="M 333.54 272.42 L 333.56 278.21 " clip-path="url(#p9b2859fcdf)" style="fill: none; stroke: #808080; stroke-opacity: 0.5; stroke-width: 0.55; stroke-linecap: round"/>
   </g>
   <g id="line2d_77">
    <path d="M 344.83 273.54 L 344.84 276.35 " clip-path="url(#p9b2859fcdf)" style="fill: none; stroke: #808080; stroke-opacity: 0.5; stroke-width: 0.55; stroke-linecap: round"/>
   </g>
   <g id="line2d_78">
    <path d="M 355.77 275.22 L 355.77 275.06 " clip-path="url(#p9b2859fcdf)" style="fill: none; stroke: #808080; stroke-opacity: 0.5; stroke-width: 0.55; stroke-linecap: round"/>
   </g>
   <g id="line2d_79">
    <path d="M 366.35 277.44 L 366.35 274.31 " clip-path="url(#p9b2859fcdf)" style="fill: none; stroke: #808080; stroke-opacity: 0.5; stroke-width: 0.55; stroke-linecap: round"/>
   </g>
   <g id="line2d_80">
    <path d="M 376.54 280.14 L 376.55 274.06 " clip-path="url(#p9b2859fcdf)" style="fill: none; stroke: #808080; stroke-opacity: 0.5; stroke-width: 0.55; stroke-linecap: round"/>
   </g>
   <g id="line2d_81">
    <path d="M 386.34 283.32 L 386.37 274.30 " clip-path="url(#p9b2859fcdf)" style="fill: none; stroke: #808080; stroke-opacity: 0.5; stroke-width: 0.55; stroke-linecap: round"/>
   </g>
   <g id="line2d_82">
    <path d="M 395.73 286.94 L 395.80 275.02 " clip-path="url(#p9b2859fcdf)" style="fill: none; stroke: #808080; stroke-opacity: 0.5; stroke-width: 0.55; stroke-linecap: round"/>
   </g>
   <g id="line2d_83">
    <path d="M 404.70 290.97 L 404.80 276.20 " clip-path="url(#p9b2859fcdf)" style="fill: none; stroke: #808080; stroke-opacity: 0.5; stroke-width: 0.55; stroke-linecap: round"/>
   </g>
   <g id="line2d_84">
    <path d="M 413.23 295.41 L 413.37 277.83 " clip-path="url(#p9b2859fcdf)" style="fill: none; stroke: #808080; stroke-opacity: 0.5; stroke-width: 0.55; stroke-linecap: round"/>
   </g>
   <g id="line2d_85">
    <path d="M 421.30 300.24 L 421.49 279.89 " clip-path="url(#p9b2859fcdf)" style="fill: none; stroke: #808080; stroke-opacity: 0.5; stroke-width: 0.55; stroke-linecap: round"/>
   </g>
   <g id="line2d_86">
    <path d="M 428.89 305.43 L 429.13 282.39 " clip-path="url(#p9b2859fcdf)" style="fill: none; stroke: #808080; stroke-opacity: 0.5; stroke-width: 0.55; stroke-linecap: round"/>
   </g>
   <g id="line2d_87">
    <path d="M 435.98 310.98 L 436.28 285.32 " clip-path="url(#p9b2859fcdf)" style="fill: none; stroke: #808080; stroke-opacity: 0.5; stroke-width: 0.55; stroke-linecap: round"/>
   </g>
   <g id="line2d_88">
    <path d="M 442.55 316.89 L 442.91 288.68 " clip-path="url(#p9b2859fcdf)" style="fill: none; stroke: #808080; stroke-opacity: 0.5; stroke-width: 0.55; stroke-linecap: round"/>
   </g>
   <g id="line2d_89">
    <path d="M 448.57 323.13 L 448.99 292.46 " clip-path="url(#p9b2859fcdf)" style="fill: none; stroke: #808080; stroke-opacity: 0.5; stroke-width: 0.55; stroke-linecap: round"/>
   </g>
   <g id="line2d_90">
    <path d="M 453.99 329.70 L 454.48 296.68 " clip-path="url(#p9b2859fcdf)" style="fill: none; stroke: #808080; stroke-opacity: 0.5; stroke-width: 0.55; stroke-linecap: round"/>
   </g>
   <g id="line2d_91">
    <path d="M 458.80 336.59 L 459.34 301.32 " clip-path="url(#p9b2859fcdf)" style="fill: none; stroke: #808080; stroke-opacity: 0.5; stroke-width: 0.55; stroke-linecap: round"/>
   </g>
   <g id="line2d_92">
    <path d="M 462.93 343.79 L 463.54 306.39 " clip-path="url(#p9b2859fcdf)" style="fill: none; stroke: #808080; stroke-opacity: 0.5; stroke-width: 0.55; stroke-linecap: round"/>
   </g>
   <g id="line2d_93">
    <path d="M 466.36 351.31 L 467.01 311.91 " clip-path="url(#p9b2859fcdf)" style="fill: none; stroke: #808080; stroke-opacity: 0.5; stroke-width: 0.55; stroke-linecap: round"/>
   </g>
   <g id="line2d_94">
    <path d="M 469.00 359.11 L 469.71 317.87 " clip-path="url(#p9b2859fcdf)" style="fill: none; stroke: #808080; stroke-opacity: 0.5; stroke-width: 0.55; stroke-linecap: round"/>
   </g>
   <g id="line2d_95">
    <path d="M 470.81 367.21 L 471.55 324.28 " clip-path="url(#p9b2859fcdf)" style="fill: none; stroke: #808080; stroke-opacity: 0.5; stroke-width: 0.55; stroke-linecap: round"/>
   </g>
   <g id="line2d_96">
    <path d="M 471.69 375.58 L 472.47 331.17 " clip-path="url(#p9b2859fcdf)" style="fill: none; stroke: #808080; stroke-opacity: 0.5; stroke-width: 0.55; stroke-linecap: round"/>
   </g>
   <g id="line2d_97">
    <path d="M 471.55 384.22 L 472.36 338.53 " clip-path="url(#p9b2859fcdf)" style="fill: none; stroke: #808080; stroke-opacity: 0.5; stroke-width: 0.55; stroke-linecap: round"/>
   </g>
   <g id="line2d_98">
    <path d="M 470.28 393.09 L 471.09 346.38 " clip-path="url(#p9b2859fcdf)" style="fill: none; stroke: #808080; stroke-opacity: 0.5; stroke-width: 0.55; stroke-linecap: round"/>
   </g>
   <g id="line2d_99">
    <path d="M 467.74 402.19 L 468.55 354.73 " clip-path="url(#p9b2859fcdf)" style="fill: none; stroke: #808080; stroke-opacity: 0.5; stroke-width: 0.55; stroke-linecap: round"/>
   </g>
   <g id="line2d_100">
    <path d="M 463.75 411.46 L 464.54 363.59 " clip-path="url(#p9b2859fcdf)" style="fill: none; stroke: #808080; stroke-opacity: 0.5; stroke-width: 0.55; stroke-linecap: round"/>
   </g>
   <g id="line2d_101">
    <path d="M 458.10 420.87 L 458.85 372.97 " clip-path="url(#p9b2859fcdf)" style="fill: none; stroke: #808080; stroke-opacity: 0.5; stroke-width: 0.55; stroke-linecap: round"/>
   </g>
   <g id="line2d_102">
    <path d="M 450.52 430.33 L 451.20 382.88 " clip-path="url(#p9b2859fcdf)" style="fill: none; stroke: #808080; stroke-opacity: 0.5; stroke-width: 0.55; stroke-linecap: round"/>
   </g>
   <g id="line2d_103">
    <path d="M 440.66 439.74 L 441.25 393.29 " clip-path="url(#p9b2859fcdf)" style="fill: none; stroke: #808080; stroke-opacity: 0.5; stroke-width: 0.55; stroke-linecap: round"/>
   </g>
   <g id="line2d_104">
    <path d="M 428.03 448.91 L 428.51 404.17 " clip-path="url(#p9b2859fcdf)" style="fill: none; stroke: #808080; stroke-opacity: 0.5; stroke-width: 0.55; stroke-linecap: round"/>
   </g>
   <g id="line2d_105">
        <g clip-path="url(#p9b2859fcdf)">
     <path d="M 0 0.4 C 0.10 0.4 0.20 0.35 0.28 0.28 C 0.35 0.20 0.4 0.10 0.4 0 C 0.4 -0.10 0.35 -0.20 0.28 -0.28 C 0.20 -0.35 0.10 -0.4 0 -0.4 C -0.10 -0.4 -0.20 -0.35 -0.28 -0.28 C -0.35 -0.20 -0.4 -0.10 -0.4 0 C -0.4 0.10 -0.35 0.20 -0.28 0.28 C -0.20 0.35 -0.10 0.4 0 0.4 z
" transform="translate(412.35 415.44)" style="fill: #808080; fill-opacity: 0.5; stroke: #808080; stroke-opacity: 0.5; stroke: #808080; stroke-opacity: 0.5"/>
     <path d="M 0 0.4 C 0.10 0.4 0.20 0.35 0.28 0.28 C 0.35 0.20 0.4 0.10 0.4 0 C 0.4 -0.10 0.35 -0.20 0.28 -0.28 C 0.20 -0.35 0.10 -0.4 0 -0.4 C -0.10 -0.4 -0.20 -0.35 -0.28 -0.28 C -0.35 -0.20 -0.4 -0.10 -0.4 0 C -0.4 0.10 -0.35 0.20 -0.28 0.28 C -0.20 0.35 -0.10 0.4 0 0.4 z
" transform="translate(391.86 426.87)" style="fill: #808080; fill-opacity: 0.5; stroke: #808080; stroke-opacity: 0.5; stroke: #808080; stroke-opacity: 0.5"/>
     <path d="M 0 0.4 C 0.10 0.4 0.20 0.35 0.28 0.28 C 0.35 0.20 0.4 0.10 0.4 0 C 0.4 -0.10 0.35 -0.20 0.28 -0.28 C 0.20 -0.35 0.10 -0.4 0 -0.4 C -0.10 -0.4 -0.20 -0.35 -0.28 -0.28 C -0.35 -0.20 -0.4 -0.10 -0.4 0 C -0.4 0.10 -0.35 0.20 -0.28 0.28 C -0.20 0.35 -0.10 0.4 0 0.4 z
" transform="translate(365.79 438.00)" style="fill: #808080; fill-opacity: 0.5; stroke: #808080; stroke-opacity: 0.5; stroke: #808080; stroke-opacity: 0.5"/>
     <path d="M 0 0.4 C 0.10 0.4 0.20 0.35 0.28 0.28 C 0.35 0.20 0.4 0.10 0.4 0 C 0.4 -0.10 0.35 -0.20 0.28 -0.28 C 0.20 -0.35 0.10 -0.4 0 -0.4 C -0.10 -0.4 -0.20 -0.35 -0.28 -0.28 C -0.35 -0.20 -0.4 -0.10 -0.4 0 C -0.4 0.10 -0.35 0.20 -0.28 0.28 C -0.20 0.35 -0.10 0.4 0 0.4 z
" transform="translate(332.40 447.74)" style="fill: #808080; fill-opacity: 0.5; stroke: #808080; stroke-opacity: 0.5; stroke: #808080; stroke-opacity: 0.5"/>
     <path d="M 0 0.4 C 0.10 0.4 0.20 0.35 0.28 0.28 C 0.35 0.20 0.4 0.10 0.4 0 C 0.4 -0.10 0.35 -0.20 0.28 -0.28 C 0.20 -0.35 0.10 -0.4 0 -0.4 C -0.10 -0.4 -0.20 -0.35 -0.28 -0.28 C -0.35 -0.20 -0.4 -0.10 -0.4 0 C -0.4 0.10 -0.35 0.20 -0.28 0.28 C -0.20 0.35 -0.10 0.4 0 0.4 z
" transform="translate(290.07 453.40)" style="fill: #808080; fill-opacity: 0.5; stroke: #808080; stroke-opacity: 0.5; stroke: #808080; stroke-opacity: 0.5"/>
     <path d="M 0 0.4 C 0.10 0.4 0.20 0.35 0.28 0.28 C 0.35 0.20 0.4 0.10 0.4 0 C 0.4 -0.10 0.35 -0.20 0.28 -0.28 C 0.20 -0.35 0.10 -0.4 0 -0.4 C -0.10 -0.4 -0.20 -0.35 -0.28 -0.28 C -0.35 -0.20 -0.4 -0.10 -0.4 0 C -0.4 0.10 -0.35 0.20 -0.28 0.28 C -0.20 0.35 -0.10 0.4 0 0.4 z
" transform="translate(241.89 449.27)" style="fill: #808080; fill-opacity: 0.5; stroke: #808080; stroke-opacity: 0.5; stroke: #808080; stroke-opacity: 0.5"/>
     <path d="M 0 0.4 C 0.10 0.4 0.20 0.35 0.28 0.28 C 0.35 0.20 0.4 0.10 0.4 0 C 0.4 -0.10 0.35 -0.20 0.28 -0.28 C 0.20 -0.35 0.10 -0.4 0 -0.4 C -0.10 -0.4 -0.20 -0.35 -0.28 -0.28 C -0.35 -0.20 -0.4 -0.10 -0.4 0 C -0.4 0.10 -0.35 0.20 -0.28 0.28 C -0.20 0.35 -0.10 0.4 0 0.4 z
" transform="translate(204.13 431.76)" style="fill: #808080; fill-opacity: 0.5; stroke: #808080; stroke-opacity: 0.5; stroke: #808080; stroke-opacity: 0.5"/>
     <path d="M 0 0.4 C 0.10 0.4 0.20 0.35 0.28 0.28 C 0.35 0.20 0.4 0.10 0.4 0 C 0.4 -0.10 0.35 -0.20 0.28 -0.28 C 0.20 -0.35 0.10 -0.4 0 -0.4 C -0.10 -0.4 -0.20 -0.35 -0.28 -0.28 C -0.35 -0.20 -0.4 -0.10 -0.4 0 C -0.4 0.10 -0.35 0.20 -0.28 0.28 C -0.20 0.35 -0.10 0.4 0 0.4 z
" transform="translate(187.63 408.89)" style="fill: #808080; fill-opacity: 0.5; stroke: #808080; stroke-opacity: 0.5; stroke: #808080; stroke-opacity: 0.5"/>
     <path d="M 0 0.4 C 0.10 0.4 0.20 0.35 0.28 0.28 C 0.35 0.20 0.4 0.10 0.4 0 C 0.4 -0.10 0.35 -0.20 0.28 -0.28 C 0.20 -0.35 0.10 -0.4 0 -0.4 C -0.10 -0.4 -0.20 -0.35 -0.28 -0.28 C -0.35 -0.20 -0.4 -0.10 -0.4 0 C -0.4 0.10 -0.35 0.20 -0.28 0.28 C -0.20 0.35 -0.10 0.4 0 0.4 z
" transform="translate(185.45 387.64)" style="fill: #808080; fill-opacity: 0.5; stroke: #808080; stroke-opacity: 0.5; stroke: #808080; stroke-opacity: 0.5"/>
     <path d="M 0 0.4 C 0.10 0.4 0.20 0.35 0.28 0.28 C 0.35 0.20 0.4 0.10 0.4 0 C 0.4 -0.10 0.35 -0.20 0.28 -0.28 C 0.20 -0.35 0.10 -0.4 0 -0.4 C -0.10 -0.4 -0.20 -0.35 -0.28 -0.28 C -0.35 -0.20 -0.4 -0.10 -0.4 0 C -0.4 0.10 -0.35 0.20 -0.28 0.28 C -0.20 0.35 -0.10 0.4 0 0.4 z
" transform="translate(190.55 369.39)" style="fill: #808080; fill-opacity: 0.5; stroke: #808080; stroke-opacity: 0.5; stroke: #808080; stroke-opacity: 0.5"/>
     <path d="M 0 0.4 C 0.10 0.4 0.20 0.35 0.28 0.28 C 0.35 0.20 0.4 0.10 0.4 0 C 0.4 -0.10 0.35 -0.20 0.28 -0.28 C 0.20 -0.35 0.10 -0.4 0 -0.4 C -0.10 -0.4 -0.20 -0.35 -0.28 -0.28 C -0.35 -0.20 -0.4 -0.10 -0.4 0 C -0.4 0.10 -0.35 0.20 -0.28 0.28 C -0.20 0.35 -0.10 0.4 0 0.4 z
" transform="translate(199.38 353.86)" style="fill: #808080; fill-opacity: 0.5; stroke: #808080; stroke-opacity: 0.5; stroke: #808080; stroke-opacity: 0.5"/>
     <path d="M 0 0.4 C 0.10 0.4 0.20 0.35 0.28 0.28 C 0.35 0.20 0.4 0.10 0.4 0 C 0.4 -0.10 0.35 -0.20 0.28 -0.28 C 0.20 -0.35 0.10 -0.4 0 -0.4 C -0.10 -0.4 -0.20 -0.35 -0.28 -0.28 C -0.35 -0.20 -0.4 -0.10 -0.4 0 C -0.4 0.10 -0.35 0.20 -0.28 0.28 C -0.20 0.35 -0.10 0.4 0 0.4 z
" transform="translate(210.19 340.61)" style="fill: #808080; fill-opacity: 0.5; stroke: #808080; stroke-opacity: 0.5; stroke: #808080; stroke-opacity: 0.5"/>
     <path d="M 0 0.4 C 0.10 0.4 0.20 0.35 0.28 0.28 C 0.35 0.20 0.4 0.10 0.4 0 C 0.4 -0.10 0.35 -0.20 0.28 -0.28 C 0.20 -0.35 0.10 -0.4 0 -0.4 C -0.10 -0.4 -0.20 -0.35 -0.28 -0.28 C -0.35 -0.20 -0.4 -0.10 -0.4 0 C -0.4 0.10 -0.35 0.20 -0.28 0.28 C -0.20 0.35 -0.10 0.4 0 0.4 z
" transform="translate(222.09 329.23)" style="fill: #808080; fill-opacity: 0.5; stroke: #808080; stroke-opacity: 0.5; stroke: #808080; stroke-opacity: 0.5"/>
     <path d="M 0 0.4 C 0.10 0.4 0.20 0.35 0.28 0.28 C 0.35 0.20 0.4 0.10 0.4 0 C 0.4 -0.10 0.35 -0.20 0.28 -0.28 C 0.20 -0.35 0.10 -0.4 0 -0.4 C -0.10 -0.4 -0.20 -0.35 -0.28 -0.28 C -0.35 -0.20 -0.4 -0.10 -0.4 0 C -0.4 0.10 -0.35 0.20 -0.28 0.28 C -0.20 0.35 -0.10 0.4 0 0.4 z
" transform="translate(234.57 319.44)" style="fill: #808080; fill-opacity: 0.5; stroke: #808080; stroke-opacity: 0.5; stroke: #808080; stroke-opacity: 0.5"/>
     <path d="M 0 0.4 C 0.10 0.4 0.20 0.35 0.28 0.28 C 0.35 0.20 0.4 0.10 0.4 0 C 0.4 -0.10 0.35 -0.20 0.28 -0.28 C 0.20 -0.35 0.10 -0.4 0 -0.4 C -0.10 -0.4 -0.20 -0.35 -0.28 -0.28 C -0.35 -0.20 -0.4 -0.10 -0.4 0 C -0.4 0.10 -0.35 0.20 -0.28 0.28 C -0.20 0.35 -0.10 0.4 0 0.4 z
" transform="translate(247.30 310.98)" style="fill: #808080; fill-opacity: 0.5; stroke: #808080; stroke-opacity: 0.5; stroke: #808080; stroke-opacity: 0.5"/>
     <path d="M 0 0.4 C 0.10 0.4 0.20 0.35 0.28 0.28 C 0.35 0.20 0.4 0.10 0.4 0 C 0.4 -0.10 0.35 -0.20 0.28 -0.28 C 0.20 -0.35 0.10 -0.4 0 -0.4 C -0.10 -0.4 -0.20 -0.35 -0.28 -0.28 C -0.35 -0.20 -0.4 -0.10 -0.4 0 C -0.4 0.10 -0.35 0.20 -0.28 0.28 C -0.20 0.35 -0.10 0.4 0 0.4 z
" transform="translate(260.12 303.69)" style="fill: #808080; fill-opacity: 0.5; stroke: #808080; stroke-opacity: 0.5; stroke: #808080; stroke-opacity: 0.5"/>
     <path d="M 0 0.4 C 0.10 0.4 0.20 0.35 0.28 0.28 C 0.35 0.20 0.4 0.10 0.4 0 C 0.4 -0.10 0.35 -0.20 0.28 -0.28 C 0.20 -0.35 0.10 -0.4 0 -0.4 C -0.10 -0.4 -0.20 -0.35 -0.28 -0.28 C -0.35 -0.20 -0.4 -0.10 -0.4 0 C -0.4 0.10 -0.35 0.20 -0.28 0.28 C -0.20 0.35 -0.10 0.4 0 0.4 z
" transform="translate(272.87 297.42)" style="fill: #808080; fill-opacity: 0.5; stroke: #808080; stroke-opacity: 0.5; stroke: #808080; stroke-opacity: 0.5"/>
     <path d="M 0 0.4 C 0.10 0.4 0.20 0.35 0.28 0.28 C 0.35 0.20 0.4 0.10 0.4 0 C 0.4 -0.10 0.35 -0.20 0.28 -0.28 C 0.20 -0.35 0.10 -0.4 0 -0.4 C -0.10 -0.4 -0.20 -0.35 -0.28 -0.28 C -0.35 -0.20 -0.4 -0.10 -0.4 0 C -0.4 0.10 -0.35 0.20 -0.28 0.28 C -0.20 0.35 -0.10 0.4 0 0.4 z
" transform="translate(285.49 292.07)" style="fill: #808080; fill-opacity: 0.5; stroke: #808080; stroke-opacity: 0.5; stroke: #808080; stroke-opacity: 0.5"/>
     <path d="M 0 0.4 C 0.10 0.4 0.20 0.35 0.28 0.28 C 0.35 0.20 0.4 0.10 0.4 0 C 0.4 -0.10 0.35 -0.20 0.28 -0.28 C 0.20 -0.35 0.10 -0.4 0 -0.4 C -0.10 -0.4 -0.20 -0.35 -0.28 -0.28 C -0.35 -0.20 -0.4 -0.10 -0.4 0 C -0.4 0.10 -0.35 0.20 -0.28 0.28 C -0.20 0.35 -0.10 0.4 0 0.4 z
" transform="translate(297.90 287.54)" style="fill: #808080; fill-opacity: 0.5; stroke: #808080; stroke-opacity: 0.5; stroke: #808080; stroke-opacity: 0.5"/>
     <path d="M 0 0.4 C 0.10 0.4 0.20 0.35 0.28 0.28 C 0.35 0.20 0.4 0.10 0.4 0 C 0.4 -0.10 0.35 -0.20 0.28 -0.28 C 0.20 -0.35 0.10 -0.4 0 -0.4 C -0.10 -0.4 -0.20 -0.35 -0.28 -0.28 C -0.35 -0.20 -0.4 -0.10 -0.4 0 C -0.4 0.10 -0.35 0.20 -0.28 0.28 C -0.20 0.35 -0.10 0.4 0 0.4 z
" transform="translate(310.08 283.76)" style="fill: #808080; fill-opacity: 0.5; stroke: #808080; stroke-opacity: 0.5; stroke: #808080; stroke-opacity: 0.5"/>
     <path d="M 0 0.4 C 0.10 0.4 0.20 0.35 0.28 0.28 C 0.35 0.20 0.4 0.10 0.4 0 C 0.4 -0.10 0.35 -0.20 0.28 -0.28 C 0.20 -0.35 0.10 -0.4 0 -0.4 C -0.10 -0.4 -0.20 -0.35 -0.28 -0.28 C -0.35 -0.20 -0.4 -0.10 -0.4 0 C -0.4 0.10 -0.35 0.20 -0.28 0.28 C -0.20 0.35 -0.10 0.4 0 0.4 z
" transform="translate(321.97 280.67)" style="fill: #808080; fill-opacity: 0.5; stroke: #808080; stroke-opacity: 0.5; stroke: #808080; stroke-opacity: 0.5"/>
     <path d="M 0 0.4 C 0.10 0.4 0.20 0.35 0.28 0.28 C 0.35 0.20 0.4 0.10 0.4 0 C 0.4 -0.10 0.35 -0.20 0.28 -0.28 C 0.20 -0.35 0.10 -0.4 0 -0.4 C -0.10 -0.4 -0.20 -0.35 -0.28 -0.28 C -0.35 -0.20 -0.4 -0.10 -0.4 0 C -0.4 0.10 -0.35 0.20 -0.28 0.28 C -0.20 0.35 -0.10 0.4 0 0.4 z
" transform="translate(333.57 278.21)" style="fill: #808080; fill-opacity: 0.5; stroke: #808080; stroke-opacity: 0.5; stroke: #808080; stroke-opacity: 0.5"/>
     <path d="M 0 0.4 C 0.10 0.4 0.20 0.35 0.28 0.28 C 0.35 0.20 0.4 0.10 0.4 0 C 0.4 -0.10 0.35 -0.20 0.28 -0.28 C 0.20 -0.35 0.10 -0.4 0 -0.4 C -0.10 -0.4 -0.20 -0.35 -0.28 -0.28 C -0.35 -0.20 -0.4 -0.10 -0.4 0 C -0.4 0.10 -0.35 0.20 -0.28 0.28 C -0.20 0.35 -0.10 0.4 0 0.4 z
" transform="translate(344.84 276.36)" style="fill: #808080; fill-opacity: 0.5; stroke: #808080; stroke-opacity: 0.5; stroke: #808080; stroke-opacity: 0.5"/>
     <path d="M 0 0.4 C 0.10 0.4 0.20 0.35 0.28 0.28 C 0.35 0.20 0.4 0.10 0.4 0 C 0.4 -0.10 0.35 -0.20 0.28 -0.28 C 0.20 -0.35 0.10 -0.4 0 -0.4 C -0.10 -0.4 -0.20 -0.35 -0.28 -0.28 C -0.35 -0.20 -0.4 -0.10 -0.4 0 C -0.4 0.10 -0.35 0.20 -0.28 0.28 C -0.20 0.35 -0.10 0.4 0 0.4 z
" transform="translate(355.77 275.07)" style="fill: #808080; fill-opacity: 0.5; stroke: #808080; stroke-opacity: 0.5; stroke: #808080; stroke-opacity: 0.5"/>
     <path d="M 0 0.4 C 0.10 0.4 0.20 0.35 0.28 0.28 C 0.35 0.20 0.4 0.10 0.4 0 C 0.4 -0.10 0.35 -0.20 0.28 -0.28 C 0.20 -0.35 0.10 -0.4 0 -0.4 C -0.10 -0.4 -0.20 -0.35 -0.28 -0.28 C -0.35 -0.20 -0.4 -0.10 -0.4 0 C -0.4 0.10 -0.35 0.20 -0.28 0.28 C -0.20 0.35 -0.10 0.4 0 0.4 z
" transform="translate(366.35 274.31)" style="fill: #808080; fill-opacity: 0.5; stroke: #808080; stroke-opacity: 0.5; stroke: #808080; stroke-opacity: 0.5"/>
     <path d="M 0 0.4 C 0.10 0.4 0.20 0.35 0.28 0.28 C 0.35 0.20 0.4 0.10 0.4 0 C 0.4 -0.10 0.35 -0.20 0.28 -0.28 C 0.20 -0.35 0.10 -0.4 0 -0.4 C -0.10 -0.4 -0.20 -0.35 -0.28 -0.28 C -0.35 -0.20 -0.4 -0.10 -0.4 0 C -0.4 0.10 -0.35 0.20 -0.28 0.28 C -0.20 0.35 -0.10 0.4 0 0.4 z
" transform="translate(376.56 274.07)" style="fill: #808080; fill-opacity: 0.5; stroke: #808080; stroke-opacity: 0.5; stroke: #808080; stroke-opacity: 0.5"/>
     <path d="M 0 0.4 C 0.10 0.4 0.20 0.35 0.28 0.28 C 0.35 0.20 0.4 0.10 0.4 0 C 0.4 -0.10 0.35 -0.20 0.28 -0.28 C 0.20 -0.35 0.10 -0.4 0 -0.4 C -0.10 -0.4 -0.20 -0.35 -0.28 -0.28 C -0.35 -0.20 -0.4 -0.10 -0.4 0 C -0.4 0.10 -0.35 0.20 -0.28 0.28 C -0.20 0.35 -0.10 0.4 0 0.4 z
" transform="translate(386.38 274.31)" style="fill: #808080; fill-opacity: 0.5; stroke: #808080; stroke-opacity: 0.5; stroke: #808080; stroke-opacity: 0.5"/>
     <path d="M 0 0.4 C 0.10 0.4 0.20 0.35 0.28 0.28 C 0.35 0.20 0.4 0.10 0.4 0 C 0.4 -0.10 0.35 -0.20 0.28 -0.28 C 0.20 -0.35 0.10 -0.4 0 -0.4 C -0.10 -0.4 -0.20 -0.35 -0.28 -0.28 C -0.35 -0.20 -0.4 -0.10 -0.4 0 C -0.4 0.10 -0.35 0.20 -0.28 0.28 C -0.20 0.35 -0.10 0.4 0 0.4 z
" transform="translate(395.80 275.03)" style="fill: #808080; fill-opacity: 0.5; stroke: #808080; stroke-opacity: 0.5; stroke: #808080; stroke-opacity: 0.5"/>
     <path d="M 0 0.4 C 0.10 0.4 0.20 0.35 0.28 0.28 C 0.35 0.20 0.4 0.10 0.4 0 C 0.4 -0.10 0.35 -0.20 0.28 -0.28 C 0.20 -0.35 0.10 -0.4 0 -0.4 C -0.10 -0.4 -0.20 -0.35 -0.28 -0.28 C -0.35 -0.20 -0.4 -0.10 -0.4 0 C -0.4 0.10 -0.35 0.20 -0.28 0.28 C -0.20 0.35 -0.10 0.4 0 0.4 z
" transform="translate(404.80 276.20)" style="fill: #808080; fill-opacity: 0.5; stroke: #808080; stroke-opacity: 0.5; stroke: #808080; stroke-opacity: 0.5"/>
     <path d="M 0 0.4 C 0.10 0.4 0.20 0.35 0.28 0.28 C 0.35 0.20 0.4 0.10 0.4 0 C 0.4 -0.10 0.35 -0.20 0.28 -0.28 C 0.20 -0.35 0.10 -0.4 0 -0.4 C -0.10 -0.4 -0.20 -0.35 -0.28 -0.28 C -0.35 -0.20 -0.4 -0.10 -0.4 0 C -0.4 0.10 -0.35 0.20 -0.28 0.28 C -0.20 0.35 -0.10 0.4 0 0.4 z
" transform="translate(413.38 277.83)" style="fill: #808080; fill-opacity: 0.5; stroke: #808080; stroke-opacity: 0.5; stroke: #808080; stroke-opacity: 0.5"/>
     <path d="M 0 0.4 C 0.10 0.4 0.20 0.35 0.28 0.28 C 0.35 0.20 0.4 0.10 0.4 0 C 0.4 -0.10 0.35 -0.20 0.28 -0.28 C 0.20 -0.35 0.10 -0.4 0 -0.4 C -0.10 -0.4 -0.20 -0.35 -0.28 -0.28 C -0.35 -0.20 -0.4 -0.10 -0.4 0 C -0.4 0.10 -0.35 0.20 -0.28 0.28 C -0.20 0.35 -0.10 0.4 0 0.4 z
" transform="translate(421.49 279.90)" style="fill: #808080; fill-opacity: 0.5; stroke: #808080; stroke-opacity: 0.5; stroke: #808080; stroke-opacity: 0.5"/>
     <path d="M 0 0.4 C 0.10 0.4 0.20 0.35 0.28 0.28 C 0.35 0.20 0.4 0.10 0.4 0 C 0.4 -0.10 0.35 -0.20 0.28 -0.28 C 0.20 -0.35 0.10 -0.4 0 -0.4 C -0.10 -0.4 -0.20 -0.35 -0.28 -0.28 C -0.35 -0.20 -0.4 -0.10 -0.4 0 C -0.4 0.10 -0.35 0.20 -0.28 0.28 C -0.20 0.35 -0.10 0.4 0 0.4 z
" transform="translate(429.14 282.40)" style="fill: #808080; fill-opacity: 0.5; stroke: #808080; stroke-opacity: 0.5; stroke: #808080; stroke-opacity: 0.5"/>
     <path d="M 0 0.4 C 0.10 0.4 0.20 0.35 0.28 0.28 C 0.35 0.20 0.4 0.10 0.4 0 C 0.4 -0.10 0.35 -0.20 0.28 -0.28 C 0.20 -0.35 0.10 -0.4 0 -0.4 C -0.10 -0.4 -0.20 -0.35 -0.28 -0.28 C -0.35 -0.20 -0.4 -0.10 -0.4 0 C -0.4 0.10 -0.35 0.20 -0.28 0.28 C -0.20 0.35 -0.10 0.4 0 0.4 z
" transform="translate(436.29 285.33)" style="fill: #808080; fill-opacity: 0.5; stroke: #808080; stroke-opacity: 0.5; stroke: #808080; stroke-opacity: 0.5"/>
     <path d="M 0 0.4 C 0.10 0.4 0.20 0.35 0.28 0.28 C 0.35 0.20 0.4 0.10 0.4 0 C 0.4 -0.10 0.35 -0.20 0.28 -0.28 C 0.20 -0.35 0.10 -0.4 0 -0.4 C -0.10 -0.4 -0.20 -0.35 -0.28 -0.28 C -0.35 -0.20 -0.4 -0.10 -0.4 0 C -0.4 0.10 -0.35 0.20 -0.28 0.28 C -0.20 0.35 -0.10 0.4 0 0.4 z
" transform="translate(442.92 288.69)" style="fill: #808080; fill-opacity: 0.5; stroke: #808080; stroke-opacity: 0.5; stroke: #808080; stroke-opacity: 0.5"/>
     <path d="M 0 0.4 C 0.10 0.4 0.20 0.35 0.28 0.28 C 0.35 0.20 0.4 0.10 0.4 0 C 0.4 -0.10 0.35 -0.20 0.28 -0.28 C 0.20 -0.35 0.10 -0.4 0 -0.4 C -0.10 -0.4 -0.20 -0.35 -0.28 -0.28 C -0.35 -0.20 -0.4 -0.10 -0.4 0 C -0.4 0.10 -0.35 0.20 -0.28 0.28 C -0.20 0.35 -0.10 0.4 0 0.4 z
" transform="translate(448.99 292.47)" style="fill: #808080; fill-opacity: 0.5; stroke: #808080; stroke-opacity: 0.5; stroke: #808080; stroke-opacity: 0.5"/>
     <path d="M 0 0.4 C 0.10 0.4 0.20 0.35 0.28 0.28 C 0.35 0.20 0.4 0.10 0.4 0 C 0.4 -0.10 0.35 -0.20 0.28 -0.28 C 0.20 -0.35 0.10 -0.4 0 -0.4 C -0.10 -0.4 -0.20 -0.35 -0.28 -0.28 C -0.35 -0.20 -0.4 -0.10 -0.4 0 C -0.4 0.10 -0.35 0.20 -0.28 0.28 C -0.20 0.35 -0.10 0.4 0 0.4 z
" transform="translate(454.48 296.68)" style="fill: #808080; fill-opacity: 0.5; stroke: #808080; stroke-opacity: 0.5; stroke: #808080; stroke-opacity: 0.5"/>
     <path d="M 0 0.4 C 0.10 0.4 0.20 0.35 0.28 0.28 C 0.35 0.20 0.4 0.10 0.4 0 C 0.4 -0.10 0.35 -0.20 0.28 -0.28 C 0.20 -0.35 0.10 -0.4 0 -0.4 C -0.10 -0.4 -0.20 -0.35 -0.28 -0.28 C -0.35 -0.20 -0.4 -0.10 -0.4 0 C -0.4 0.10 -0.35 0.20 -0.28 0.28 C -0.20 0.35 -0.10 0.4 0 0.4 z
" transform="translate(459.35 301.32)" style="fill: #808080; fill-opacity: 0.5; stroke: #808080; stroke-opacity: 0.5; stroke: #808080; stroke-opacity: 0.5"/>
     <path d="M 0 0.4 C 0.10 0.4 0.20 0.35 0.28 0.28 C 0.35 0.20 0.4 0.10 0.4 0 C 0.4 -0.10 0.35 -0.20 0.28 -0.28 C 0.20 -0.35 0.10 -0.4 0 -0.4 C -0.10 -0.4 -0.20 -0.35 -0.28 -0.28 C -0.35 -0.20 -0.4 -0.10 -0.4 0 C -0.4 0.10 -0.35 0.20 -0.28 0.28 C -0.20 0.35 -0.10 0.4 0 0.4 z
" transform="translate(463.54 306.40)" style="fill: #808080; fill-opacity: 0.5; stroke: #808080; stroke-opacity: 0.5; stroke: #808080; stroke-opacity: 0.5"/>
     <path d="M 0 0.4 C 0.10 0.4 0.20 0.35 0.28 0.28 C 0.35 0.20 0.4 0.10 0.4 0 C 0.4 -0.10 0.35 -0.20 0.28 -0.28 C 0.20 -0.35 0.10 -0.4 0 -0.4 C -0.10 -0.4 -0.20 -0.35 -0.28 -0.28 C -0.35 -0.20 -0.4 -0.10 -0.4 0 C -0.4 0.10 -0.35 0.20 -0.28 0.28 C -0.20 0.35 -0.10 0.4 0 0.4 z
" transform="translate(467.02 311.91)" style="fill: #808080; fill-opacity: 0.5; stroke: #808080; stroke-opacity: 0.5; stroke: #808080; stroke-opacity: 0.5"/>
     <path d="M 0 0.4 C 0.10 0.4 0.20 0.35 0.28 0.28 C 0.35 0.20 0.4 0.10 0.4 0 C 0.4 -0.10 0.35 -0.20 0.28 -0.28 C 0.20 -0.35 0.10 -0.4 0 -0.4 C -0.10 -0.4 -0.20 -0.35 -0.28 -0.28 C -0.35 -0.20 -0.4 -0.10 -0.4 0 C -0.4 0.10 -0.35 0.20 -0.28 0.28 C -0.20 0.35 -0.10 0.4 0 0.4 z
" transform="translate(469.71 317.87)" style="fill: #808080; fill-opacity: 0.5; stroke: #808080; stroke-opacity: 0.5; stroke: #808080; stroke-opacity: 0.5"/>
     <path d="M 0 0.4 C 0.10 0.4 0.20 0.35 0.28 0.28 C 0.35 0.20 0.4 0.10 0.4 0 C 0.4 -0.10 0.35 -0.20 0.28 -0.28 C 0.20 -0.35 0.10 -0.4 0 -0.4 C -0.10 -0.4 -0.20 -0.35 -0.28 -0.28 C -0.35 -0.20 -0.4 -0.10 -0.4 0 C -0.4 0.10 -0.35 0.20 -0.28 0.28 C -0.20 0.35 -0.10 0.4 0 0.4 z
" transform="translate(471.56 324.29)" style="fill: #808080; fill-opacity: 0.5; stroke: #808080; stroke-opacity: 0.5; stroke: #808080; stroke-opacity: 0.5"/>
     <path d="M 0 0.4 C 0.10 0.4 0.20 0.35 0.28 0.28 C 0.35 0.20 0.4 0.10 0.4 0 C 0.4 -0.10 0.35 -0.20 0.28 -0.28 C 0.20 -0.35 0.10 -0.4 0 -0.4 C -0.10 -0.4 -0.20 -0.35 -0.28 -0.28 C -0.35 -0.20 -0.4 -0.10 -0.4 0 C -0.4 0.10 -0.35 0.20 -0.28 0.28 C -0.20 0.35 -0.10 0.4 0 0.4 z
" transform="translate(472.47 331.17)" style="fill: #808080; fill-opacity: 0.5; stroke: #808080; stroke-opacity: 0.5; stroke: #808080; stroke-opacity: 0.5"/>
     <path d="M 0 0.4 C 0.10 0.4 0.20 0.35 0.28 0.28 C 0.35 0.20 0.4 0.10 0.4 0 C 0.4 -0.10 0.35 -0.20 0.28 -0.28 C 0.20 -0.35 0.10 -0.4 0 -0.4 C -0.10 -0.4 -0.20 -0.35 -0.28 -0.28 C -0.35 -0.20 -0.4 -0.10 -0.4 0 C -0.4 0.10 -0.35 0.20 -0.28 0.28 C -0.20 0.35 -0.10 0.4 0 0.4 z
" transform="translate(472.36 338.53)" style="fill: #808080; fill-opacity: 0.5; stroke: #808080; stroke-opacity: 0.5; stroke: #808080; stroke-opacity: 0.5"/>
     <path d="M 0 0.4 C 0.10 0.4 0.20 0.35 0.28 0.28 C 0.35 0.20 0.4 0.10 0.4 0 C 0.4 -0.10 0.35 -0.20 0.28 -0.28 C 0.20 -0.35 0.10 -0.4 0 -0.4 C -0.10 -0.4 -0.20 -0.35 -0.28 -0.28 C -0.35 -0.20 -0.4 -0.10 -0.4 0 C -0.4 0.10 -0.35 0.20 -0.28 0.28 C -0.20 0.35 -0.10 0.4 0 0.4 z
" transform="translate(471.10 346.38)" style="fill: #808080; fill-opacity: 0.5; stroke: #808080; stroke-opacity: 0.5; stroke: #808080; stroke-opacity: 0.5"/>
     <path d="M 0 0.4 C 0.10 0.4 0.20 0.35 0.28 0.28 C 0.35 0.20 0.4 0.10 0.4 0 C 0.4 -0.10 0.35 -0.20 0.28 -0.28 C 0.20 -0.35 0.10 -0.4 0 -0.4 C -0.10 -0.4 -0.20 -0.35 -0.28 -0.28 C -0.35 -0.20 -0.4 -0.10 -0.4 0 C -0.4 0.10 -0.35 0.20 -0.28 0.28 C -0.20 0.35 -0.10 0.4 0 0.4 z
" transform="translate(468.55 354.73)" style="fill: #808080; fill-opacity: 0.5; stroke: #808080; stroke-opacity: 0.5; stroke: #808080; stroke-opacity: 0.5"/>
     <path d="M 0 0.4 C 0.10 0.4 0.20 0.35 0.28 0.28 C 0.35 0.20 0.4 0.10 0.4 0 C 0.4 -0.10 0.35 -0.20 0.28 -0.28 C 0.20 -0.35 0.10 -0.4 0 -0.4 C -0.10 -0.4 -0.20 -0.35 -0.28 -0.28 C -0.35 -0.20 -0.4 -0.10 -0.4 0 C -0.4 0.10 -0.35 0.20 -0.28 0.28 C -0.20 0.35 -0.10 0.4 0 0.4 z
" transform="translate(464.54 363.59)" style="fill: #808080; fill-opacity: 0.5; stroke: #808080; stroke-opacity: 0.5; stroke: #808080; stroke-opacity: 0.5"/>
     <path d="M 0 0.4 C 0.10 0.4 0.20 0.35 0.28 0.28 C 0.35 0.20 0.4 0.10 0.4 0 C 0.4 -0.10 0.35 -0.20 0.28 -0.28 C 0.20 -0.35 0.10 -0.4 0 -0.4 C -0.10 -0.4 -0.20 -0.35 -0.28 -0.28 C -0.35 -0.20 -0.4 -0.10 -0.4 0 C -0.4 0.10 -0.35 0.20 -0.28 0.28 C -0.20 0.35 -0.10 0.4 0 0.4 z
" transform="translate(458.85 372.98)" style="fill: #808080; fill-opacity: 0.5; stroke: #808080; stroke-opacity: 0.5; stroke: #808080; stroke-opacity: 0.5"/>
     <path d="M 0 0.4 C 0.10 0.4 0.20 0.35 0.28 0.28 C 0.35 0.20 0.4 0.10 0.4 0 C 0.4 -0.10 0.35 -0.20 0.28 -0.28 C 0.20 -0.35 0.10 -0.4 0 -0.4 C -0.10 -0.4 -0.20 -0.35 -0.28 -0.28 C -0.35 -0.20 -0.4 -0.10 -0.4 0 C -0.4 0.10 -0.35 0.20 -0.28 0.28 C -0.20 0.35 -0.10 0.4 0 0.4 z
" transform="translate(451.21 382.88)" style="fill: #808080; fill-opacity: 0.5; stroke: #808080; stroke-opacity: 0.5; stroke: #808080; stroke-opacity: 0.5"/>
     <path d="M 0 0.4 C 0.10 0.4 0.20 0.35 0.28 0.28 C 0.35 0.20 0.4 0.10 0.4 0 C 0.4 -0.10 0.35 -0.20 0.28 -0.28 C 0.20 -0.35 0.10 -0.4 0 -0.4 C -0.10 -0.4 -0.20 -0.35 -0.28 -0.28 C -0.35 -0.20 -0.4 -0.10 -0.4 0 C -0.4 0.10 -0.35 0.20 -0.28 0.28 C -0.20 0.35 -0.10 0.4 0 0.4 z
" transform="translate(441.25 393.29)" style="fill: #808080; fill-opacity: 0.5; stroke: #808080; stroke-opacity: 0.5; stroke: #808080; stroke-opacity: 0.5"/>
     <path d="M 0 0.4 C 0.10 0.4 0.20 0.35 0.28 0.28 C 0.35 0.20 0.4 0.10 0.4 0 C 0.4 -0.10 0.35 -0.20 0.28 -0.28 C 0.20 -0.35 0.10 -0.4 0 -0.4 C -0.10 -0.4 -0.20 -0.35 -0.28 -0.28 C -0.35 -0.20 -0.4 -0.10 -0.4 0 C -0.4 0.10 -0.35 0.20 -0.28 0.28 C -0.20 0.35 -0.10 0.4 0 0.4 z
" transform="translate(428.51 404.18)" style="fill: #808080; fill-opacity: 0.5; stroke: #808080; stroke-opacity: 0.5; stroke: #808080; stroke-opacity: 0.5"/>
    </g>
   </g>
   <g id="line2d_106">
    <path d="M 317.75 434.28 L 315.35 436.24 L 312.70 438.11 L 309.80 439.89 L 306.66 441.57 L 303.31 443.12 L 299.76 444.56 L 296.02 445.86 L 292.12 447.03 L 287.04 448.29 L 281.77 449.32 L 276.36 450.10 L 270.84 450.63 L 265.27 450.91 L 259.67 450.94 L 254.11 450.71 L 248.63 450.22 L 243.26 449.49 L 238.05 448.51 L 233.04 447.29 L 229.20 446.16 L 225.54 444.88 L 222.07 443.48 L 218.81 441.95 L 215.77 440.30 L 212.97 438.55 L 210.43 436.70 L 208.15 434.76 L 206.14 432.74 L 204.42 430.64 L 203.00 428.50 L 201.87 426.30 L 201.04 424.07 L 200.62 422.37 L 200.38 420.67 L 200.31 418.96 L 200.41 417.25 L 200.68 415.55 L 201.13 413.86 L 201.98 411.62 L 203.14 409.42 L 204.58 407.26 L 206.30 405.16 L 208.30 403.12 L 210.56 401.16 L 213.08 399.28 L 215.83 397.50 L 218.80 395.81 L 221.99 394.24 L 225.37 392.78 L 228.93 391.44 L 233.61 389.95 L 238.50 388.68 L 243.58 387.62 L 248.80 386.79 L 254.13 386.19 L 259.52 385.83 L 264.94 385.71 L 270.35 385.83 L 275.71 386.19 L 280.98 386.79 L 286.13 387.63 L 291.10 388.68 L 295.88 389.96 L 300.42 391.46 L 303.85 392.79 L 307.10 394.25 L 310.14 395.83 L 312.96 397.51 L 315.54 399.30 L 317.88 401.18 L 319.96 403.14 L 321.77 405.18 L 323.30 407.28 L 324.54 409.44 L 325.49 411.64 L 326.14 413.88 L 326.43 415.57 L 326.54 417.28 L 326.49 418.98 L 326.26 420.69 L 325.85 422.39 L 325.28 424.09 L 324.24 426.32 L 322.91 428.52 L 321.28 430.67 L 319.37 432.76 L 317.75 434.28 L 317.75 434.28 " clip-path="url(#p9b2859fcdf)" style="fill: none; stroke-dasharray: 2.77,1.2; stroke-dashoffset: 0; stroke: #0000ff; stroke-opacity: 0.6; stroke-width: 0.75"/>
   </g>
   <g id="line2d_107">
    <path d="M 372.89 450.98 L 369.40 453.98 L 365.60 456.90 L 361.50 459.71 L 357.12 462.41 L 352.47 465.00 L 347.55 467.46 L 342.39 469.78 L 336.99 471.96 L 331.38 474.00 L 325.57 475.88 L 319.57 477.60 L 313.40 479.15 L 307.09 480.53 L 300.65 481.74 L 294.09 482.77 L 287.44 483.62 L 280.72 484.28 L 273.94 484.75 L 267.14 485.03 L 260.32 485.13 L 253.51 485.03 L 246.73 484.75 L 240.00 484.27 L 233.35 483.61 L 226.77 482.76 L 220.31 481.73 L 213.98 480.52 L 207.80 479.13 L 201.77 477.58 L 195.94 475.86 L 190.30 473.97 L 184.88 471.94 L 179.68 469.75 L 174.74 467.43 L 170.05 464.97 L 165.64 462.38 L 161.51 459.68 L 157.67 456.86 L 154.14 453.95 L 150.93 450.94 L 148.03 447.85 L 145.47 444.68 L 143.24 441.45 L 141.34 438.16 L 139.79 434.83 L 138.95 432.59 L 138.27 430.33 L 137.74 428.07 L 137.36 425.79 L 137.14 423.51 L 137.07 421.23 L 137.16 418.95 L 137.40 416.68 L 137.79 414.40 L 138.34 412.14 L 139.44 408.77 L 140.87 405.44 L 142.64 402.15 L 144.72 398.91 L 147.13 395.74 L 149.84 392.63 L 152.85 389.60 L 156.15 386.66 L 159.73 383.80 L 163.58 381.05 L 167.68 378.40 L 172.04 375.87 L 176.63 373.45 L 181.44 371.16 L 186.47 369.00 L 191.68 366.97 L 197.08 365.09 L 202.65 363.34 L 208.37 361.75 L 214.23 360.31 L 220.22 359.02 L 226.31 357.89 L 232.49 356.92 L 238.75 356.12 L 245.08 355.47 L 251.44 355.00 L 257.84 354.69 L 264.25 354.55 L 270.66 354.58 L 277.05 354.78 L 283.41 355.15 L 289.71 355.68 L 295.95 356.38 L 302.11 357.24 L 308.17 358.26 L 314.12 359.45 L 319.93 360.79 L 325.61 362.28 L 331.13 363.93 L 336.48 365.72 L 341.64 367.66 L 346.60 369.73 L 351.35 371.94 L 355.87 374.27 L 360.16 376.73 L 364.19 379.31 L 367.97 381.99 L 371.47 384.78 L 374.69 387.66 L 377.62 390.64 L 380.24 393.70 L 382.56 396.83 L 384.56 400.03 L 386.24 403.28 L 387.59 406.59 L 388.60 409.94 L 389.09 412.19 L 389.42 414.45 L 389.61 416.72 L 389.63 419.00 L 389.51 421.28 L 389.23 423.56 L 388.80 425.84 L 388.21 428.11 L 387.47 430.38 L 386.07 433.75 L 384.32 437.10 L 382.24 440.40 L 379.82 443.65 L 377.07 446.84 L 373.99 449.96 L 372.89 450.98 L 372.89 450.98 " clip-path="url(#p9b2859fcdf)" style="fill: none; stroke-dasharray: 2.77,1.2; stroke-dashoffset: 0; stroke: #1414b4; stroke-opacity: 0.6; stroke-width: 0.75"/>
   </g>
   <g id="line2d_108">
    <path d="M 428.91 467.94 L 425.51 471.01 L 421.91 474.02 L 418.09 476.97 L 414.07 479.86 L 409.86 482.67 L 405.44 485.41 L 400.84 488.07 L 396.05 490.65 L 391.09 493.14 L 385.95 495.55 L 380.65 497.86 L 375.19 500.07 L 366.71 503.21 L 357.92 506.10 L 348.83 508.76 L 339.48 511.16 L 329.89 513.29 L 320.09 515.16 L 310.12 516.75 L 300.00 518.06 L 289.76 519.08 L 279.44 519.81 L 269.07 520.25 L 258.68 520.40 L 248.31 520.25 L 237.98 519.80 L 227.73 519.07 L 217.58 518.04 L 207.59 516.73 L 197.76 515.14 L 188.14 513.27 L 178.75 511.13 L 169.62 508.72 L 160.78 506.07 L 152.26 503.17 L 146.76 501.10 L 141.42 498.94 L 136.25 496.67 L 131.25 494.31 L 126.43 491.86 L 121.78 489.32 L 117.33 486.70 L 113.08 484.00 L 109.02 481.22 L 105.17 478.37 L 101.52 475.45 L 98.09 472.47 L 94.87 469.42 L 91.87 466.32 L 89.09 463.17 L 86.54 459.97 L 84.22 456.73 L 82.12 453.46 L 80.26 450.14 L 78.62 446.80 L 77.22 443.43 L 76.06 440.04 L 75.13 436.64 L 74.43 433.22 L 73.96 429.79 L 73.73 426.36 L 73.73 422.94 L 73.97 419.51 L 74.43 416.10 L 75.12 412.69 L 76.04 409.31 L 77.18 405.94 L 78.54 402.61 L 80.12 399.30 L 81.92 396.02 L 83.93 392.78 L 86.15 389.58 L 88.58 386.42 L 91.21 383.31 L 94.04 380.25 L 97.06 377.24 L 100.27 374.29 L 103.67 371.41 L 107.24 368.58 L 111.00 365.82 L 114.92 363.13 L 119.02 360.51 L 125.45 356.72 L 132.23 353.11 L 139.34 349.68 L 146.75 346.45 L 154.45 343.41 L 162.41 340.58 L 170.62 337.96 L 179.05 335.55 L 187.69 333.37 L 196.51 331.41 L 205.49 329.69 L 214.60 328.20 L 223.84 326.94 L 233.16 325.93 L 242.56 325.16 L 252.01 324.63 L 261.48 324.34 L 270.95 324.30 L 280.41 324.51 L 289.83 324.96 L 299.18 325.66 L 308.44 326.59 L 317.60 327.77 L 326.63 329.18 L 335.50 330.83 L 344.20 332.72 L 352.70 334.83 L 360.99 337.16 L 369.04 339.71 L 376.83 342.48 L 384.34 345.45 L 391.56 348.62 L 398.46 351.99 L 405.02 355.55 L 411.22 359.28 L 415.16 361.86 L 418.92 364.52 L 422.51 367.24 L 425.91 370.04 L 429.14 372.90 L 432.17 375.82 L 435.01 378.80 L 437.65 381.83 L 440.10 384.92 L 442.33 388.05 L 444.36 391.23 L 446.18 394.45 L 447.78 397.72 L 449.17 401.01 L 450.33 404.34 L 451.27 407.69 L 451.99 411.06 L 452.48 414.46 L 452.74 417.87 L 452.77 421.29 L 452.56 424.71 L 452.13 428.14 L 451.46 431.57 L 450.56 434.99 L 449.43 438.41 L 448.07 441.80 L 446.47 445.18 L 444.64 448.54 L 442.58 451.87 L 440.30 455.16 L 437.78 458.42 L 435.04 461.64 L 432.09 464.81 L 428.91 467.94 L 428.91 467.94 " clip-path="url(#p9b2859fcdf)" style="fill: none; stroke-dasharray: 2.77,1.2; stroke-dashoffset: 0; stroke: #1414b4; stroke-opacity: 0.6; stroke-width: 0.75"/>
   </g>
   <g id="line2d_109">
    <path d="M 485.80 485.17 L 481.35 489.33 L 476.60 493.42 L 471.57 497.42 L 466.25 501.34 L 460.66 505.17 L 454.80 508.90 L 448.68 512.53 L 442.30 516.04 L 435.67 519.45 L 428.80 522.73 L 421.70 525.89 L 414.38 528.92 L 406.84 531.81 L 399.10 534.57 L 391.17 537.18 L 383.06 539.64 L 374.77 541.95 L 366.33 544.11 L 357.73 546.11 L 349.00 547.94 L 340.15 549.61 L 331.18 551.11 L 322.11 552.44 L 312.96 553.60 L 303.74 554.58 L 294.45 555.38 L 285.12 556.01 L 275.76 556.46 L 266.38 556.73 L 256.99 556.82 L 247.61 556.73 L 238.26 556.45 L 228.93 556.00 L 219.66 555.37 L 210.45 554.56 L 201.32 553.58 L 192.28 552.42 L 183.34 551.08 L 174.51 549.58 L 165.81 547.91 L 157.25 546.07 L 148.84 544.07 L 140.60 541.91 L 132.52 539.59 L 124.64 537.13 L 116.95 534.51 L 109.47 531.76 L 102.20 528.86 L 95.16 525.83 L 88.36 522.67 L 81.79 519.38 L 75.48 515.98 L 69.43 512.46 L 63.64 508.83 L 58.13 505.10 L 52.89 501.27 L 47.94 497.35 L 43.28 493.34 L 38.92 489.25 L 34.85 485.09 L 31.08 480.86 L 27.62 476.56 L 24.47 472.21 L 21.63 467.81 L 19.10 463.37 L 16.88 458.88 L 14.98 454.37 L 13.40 449.83 L 12.13 445.27 L 11.17 440.69 L 10.53 436.10 L 10.20 431.52 L 10.18 426.93 L 10.48 422.35 L 11.08 417.79 L 11.98 413.25 L 13.18 408.73 L 14.69 404.24 L 16.48 399.79 L 18.57 395.38 L 20.94 391.01 L 23.60 386.69 L 26.53 382.43 L 29.73 378.23 L 33.20 374.09 L 36.93 370.02 L 40.91 366.02 L 45.14 362.10 L 49.62 358.26 L 54.33 354.51 L 59.27 350.84 L 64.43 347.27 L 69.82 343.79 L 75.41 340.41 L 81.20 337.13 L 87.19 333.95 L 93.36 330.88 L 99.72 327.93 L 106.25 325.08 L 112.94 322.35 L 119.79 319.74 L 126.79 317.25 L 133.93 314.89 L 141.21 312.65 L 148.61 310.53 L 156.13 308.54 L 163.76 306.68 L 171.49 304.96 L 179.31 303.37 L 191.20 301.23 L 203.26 299.40 L 215.45 297.88 L 227.75 296.67 L 240.13 295.77 L 252.56 295.19 L 265.01 294.93 L 277.46 294.98 L 289.87 295.36 L 302.22 296.04 L 314.48 297.05 L 326.63 298.37 L 338.63 300.00 L 350.45 301.93 L 358.22 303.39 L 365.90 304.99 L 373.47 306.72 L 380.93 308.58 L 388.26 310.57 L 395.47 312.69 L 402.53 314.93 L 409.46 317.30 L 416.23 319.79 L 422.83 322.40 L 429.27 325.14 L 435.54 327.98 L 441.62 330.94 L 447.51 334.01 L 453.20 337.19 L 458.69 340.47 L 463.97 343.85 L 469.02 347.33 L 473.86 350.91 L 478.46 354.58 L 482.82 358.34 L 486.94 362.18 L 490.81 366.10 L 494.42 370.10 L 497.77 374.17 L 500.85 378.31 L 503.67 382.51 L 506.20 386.78 L 508.45 391.09 L 510.42 395.46 L 512.10 399.87 L 513.48 404.33 L 514.57 408.82 L 515.35 413.33 L 515.83 417.88 L 516.01 422.44 L 515.87 427.02 L 515.43 431.60 L 514.68 436.19 L 513.61 440.78 L 512.23 445.35 L 510.53 449.91 L 508.53 454.46 L 506.21 458.97 L 503.57 463.45 L 500.63 467.90 L 497.38 472.30 L 493.82 476.65 L 489.96 480.94 L 485.80 485.17 L 485.80 485.17 " clip-path="url(#p9b2859fcdf)" style="fill: none; stroke-dasharray: 2.77,1.2; stroke-dashoffset: 0; stroke: #1414b4; stroke-opacity: 0.6; stroke-width: 0.75"/>
   </g>
   <g id="line2d_110">
    <path d="M 543.61 502.67 L 538.13 507.96 L 532.28 513.16 L 526.05 518.26 L 519.47 523.25 L 512.52 528.14 L 505.22 532.90 L 497.59 537.53 L 489.62 542.03 L 481.32 546.38 L 472.72 550.59 L 463.81 554.64 L 454.60 558.52 L 445.12 562.24 L 435.38 565.78 L 425.37 569.13 L 415.13 572.30 L 404.66 575.28 L 393.98 578.05 L 383.11 580.63 L 372.05 582.99 L 360.83 585.14 L 349.46 587.08 L 337.96 588.79 L 326.34 590.29 L 314.63 591.56 L 302.84 592.60 L 290.99 593.41 L 279.09 593.99 L 267.17 594.33 L 255.24 594.45 L 243.32 594.33 L 231.44 593.98 L 219.59 593.39 L 207.82 592.58 L 196.12 591.53 L 184.53 590.26 L 173.05 588.76 L 161.71 587.04 L 150.52 585.10 L 139.50 582.95 L 128.67 580.58 L 118.03 578.00 L 107.61 575.22 L 97.42 572.24 L 87.47 569.07 L 77.78 565.71 L 68.36 562.17 L 59.23 558.45 L 50.39 554.56 L 41.85 550.51 L 33.64 546.30 L 25.75 541.94 L 18.20 537.44 L 10.99 532.81 L 4.14 528.04 L -1 524.19 M -1 343.12 L 3.98 339.26 L 10.22 334.75 L 16.73 330.35 L 23.49 326.07 L 30.51 321.92 L 37.78 317.90 L 45.27 314.00 L 52.99 310.24 L 60.92 306.62 L 69.06 303.14 L 77.40 299.81 L 85.92 296.62 L 94.62 293.58 L 103.49 290.69 L 112.51 287.95 L 121.69 285.37 L 131.00 282.95 L 140.44 280.69 L 150.00 278.59 L 159.67 276.65 L 169.44 274.87 L 179.30 273.26 L 189.24 271.82 L 199.26 270.54 L 209.33 269.44 L 219.45 268.50 L 229.62 267.73 L 239.81 267.13 L 250.03 266.71 L 260.26 266.45 L 270.49 266.37 L 280.71 266.46 L 290.91 266.71 L 301.09 267.14 L 311.23 267.74 L 321.32 268.52 L 331.36 269.46 L 341.33 270.57 L 351.22 271.85 L 361.03 273.29 L 370.74 274.90 L 380.35 276.68 L 389.84 278.63 L 399.20 280.73 L 408.43 283.00 L 417.52 285.42 L 426.46 288.00 L 435.23 290.74 L 443.83 293.63 L 452.24 296.68 L 460.47 299.87 L 468.50 303.21 L 476.31 306.69 L 483.91 310.31 L 491.28 314.08 L 498.41 317.97 L 505.30 322.00 L 511.94 326.15 L 518.31 330.43 L 524.41 334.83 L 530.23 339.35 L 535.76 343.98 L 541.00 348.72 L 545.93 353.56 L 550.55 358.50 L 554.86 363.53 L 558.83 368.66 L 562.48 373.86 L 565.79 379.15 L 568.75 384.51 L 571.35 389.94 L 573.61 395.43 L 575.49 400.98 L 577.01 406.57 L 578.16 412.21 L 578.93 417.89 L 579.32 423.60 L 579.32 429.33 L 578.94 435.07 L 578.16 440.83 L 576.99 446.59 L 575.43 452.34 L 573.47 458.09 L 571.12 463.81 L 568.37 469.50 L 565.22 475.16 L 561.68 480.78 L 557.75 486.35 L 553.42 491.86 L 548.71 497.30 L 543.61 502.67 L 543.61 502.67 " clip-path="url(#p9b2859fcdf)" style="fill: none; stroke-dasharray: 2.77,1.2; stroke-dashoffset: 0; stroke: #1414b4; stroke-opacity: 0.6; stroke-width: 0.75"/>
   </g>
   <g id="line2d_111">
    <path d="M 602.35 520.46 L 595.88 526.91 L 588.96 533.26 L 581.58 539.49 L 573.74 545.60 L 565.47 551.58 L 556.75 557.42 L 547.61 563.10 L 538.06 568.63 L 528.10 573.98 L 517.74 579.15 L 507.01 584.14 L 495.91 588.92 L 484.46 593.50 L 472.67 597.87 L 460.56 602.01 L 448.15 605.93 L 435.45 609.60 L 422.48 613.04 L 409.27 616.22 L 395.82 619.15 L 382.17 621.81 L 368.33 624.21 L 354.32 626.34 L 340.17 628.19 L 325.89 629.76 L 311.51 631.05 L 297.05 632.06 L 282.54 632.77 L 267.99 633.21 L 253.43 633.35 L 238.89 633.20 L 224.39 632.76 L 209.94 632.04 L 195.58 631.03 L 181.32 629.73 L 167.19 628.16 L 153.20 626.30 L 139.39 624.17 L 125.78 621.76 L 112.37 619.09 L 99.20 616.16 L 86.28 612.97 L 73.63 609.54 L 61.28 605.86 L 49.23 601.94 L 37.51 597.79 L 26.13 593.42 L 15.10 588.83 L 4.45 584.04 L -1 581.44 M -1 297.04 L 4.17 294.44 L 13.43 290.02 L 22.93 285.76 L 32.67 281.67 L 42.64 277.76 L 52.81 274.01 L 63.19 270.45 L 73.76 267.06 L 84.51 263.86 L 95.43 260.84 L 106.50 258.00 L 117.72 255.35 L 129.07 252.90 L 140.55 250.63 L 152.14 248.56 L 163.83 246.67 L 175.61 244.99 L 187.47 243.50 L 199.40 242.21 L 211.38 241.11 L 223.41 240.22 L 235.48 239.52 L 247.57 239.02 L 259.67 238.72 L 271.78 238.63 L 283.87 238.73 L 295.95 239.03 L 307.99 239.53 L 319.99 240.23 L 331.94 241.13 L 343.82 242.23 L 355.63 243.53 L 367.35 245.02 L 378.98 246.71 L 390.49 248.59 L 401.89 250.67 L 413.16 252.94 L 424.28 255.40 L 435.25 258.05 L 446.06 260.89 L 456.70 263.92 L 467.15 267.12 L 477.41 270.51 L 487.45 274.08 L 497.28 277.83 L 506.88 281.75 L 516.25 285.84 L 525.36 290.10 L 534.21 294.53 L 542.79 299.11 L 551.08 303.86 L 559.09 308.76 L 566.79 313.81 L 574.17 319.00 L 581.24 324.34 L 587.97 329.82 L 594.36 335.43 L 600.39 341.17 L 606.06 347.03 L 611.36 353.00 L 616.28 359.09 L 620.81 365.29 L 624.94 371.58 L 628.66 377.97 L 631.97 384.45 L 634.85 391.01 L 637.31 397.64 L 639.33 404.33 L 640.17 407.71 L 640.90 411.09 L 641.52 414.49 L 642.03 417.90 L 642.42 421.32 L 642.70 424.75 L 642.86 428.19 L 642.91 431.64 L 642.84 435.09 L 642.65 438.55 L 642.34 442.02 L 641.92 445.49 L 641.38 448.96 L 640.72 452.43 L 639.94 455.91 L 639.05 459.38 L 638.03 462.85 L 636.89 466.32 L 635.63 469.78 L 634.26 473.24 L 632.76 476.70 L 631.14 480.14 L 629.40 483.58 L 627.54 487.00 L 623.46 493.82 L 618.90 500.59 L 613.85 507.29 L 608.34 513.91 L 602.35 520.46 L 602.35 520.46 " clip-path="url(#p9b2859fcdf)" style="fill: none; stroke-dasharray: 2.77,1.2; stroke-dashoffset: 0; stroke: #1414b4; stroke-opacity: 0.6; stroke-width: 0.75"/>
   </g>
   <g id="line2d_112">
    <path d="M 263.45 417.83 L 602.35 520.46 " clip-path="url(#p9b2859fcdf)" style="fill: none; stroke-dasharray: 2.77,1.2; stroke-dashoffset: 0; stroke: #1414b4; stroke-opacity: 0.6; stroke-width: 0.75"/>
   </g>
   <g id="line2d_113">
    <path d="M 263.45 417.83 L 460.56 602.01 " clip-path="url(#p9b2859fcdf)" style="fill: none; stroke-dasharray: 2.77,1.2; stroke-dashoffset: 0; stroke: #1414b4; stroke-opacity: 0.6; stroke-width: 0.75"/>
   </g>
   <g id="line2d_114">
    <path d="M 263.45 417.83 L 253.43 633.35 " clip-path="url(#p9b2859fcdf)" style="fill: none; stroke-dasharray: 2.77,1.2; stroke-dashoffset: 0; stroke: #1414b4; stroke-opacity: 0.6; stroke-width: 0.75"/>
   </g>
   <g id="line2d_115">
    <path d="M 263.45 417.83 L 49.23 601.94 " clip-path="url(#p9b2859fcdf)" style="fill: none; stroke-dasharray: 2.77,1.2; stroke-dashoffset: 0; stroke: #1414b4; stroke-opacity: 0.6; stroke-width: 0.75"/>
   </g>
   <g id="line2d_116">
    <path d="M 263.45 417.83 L -1 495.64 " clip-path="url(#p9b2859fcdf)" style="fill: none; stroke-dasharray: 2.77,1.2; stroke-dashoffset: 0; stroke: #1414b4; stroke-opacity: 0.6; stroke-width: 0.75"/>
   </g>
   <g id="line2d_117">
    <path d="M 263.45 417.83 L -1 417.79 " clip-path="url(#p9b2859fcdf)" style="fill: none; stroke-dasharray: 2.77,1.2; stroke-dashoffset: 0; stroke: #1414b4; stroke-opacity: 0.6; stroke-width: 0.75"/>
   </g>
   <g id="line2d_118">
    <path d="M 263.45 417.83 L -1 337.75 " clip-path="url(#p9b2859fcdf)" style="fill: none; stroke-dasharray: 2.77,1.2; stroke-dashoffset: 0; stroke: #1414b4; stroke-opacity: 0.6; stroke-width: 0.75"/>
   </g>
   <g id="line2d_119">
    <path d="M 263.45 417.83 L 95.43 260.84 " clip-path="url(#p9b2859fcdf)" style="fill: none; stroke-dasharray: 2.77,1.2; stroke-dashoffset: 0; stroke: #1414b4; stroke-opacity: 0.6; stroke-width: 0.75"/>
   </g>
   <g id="line2d_120">
    <path d="M 263.45 417.83 L 271.78 238.63 " clip-path="url(#p9b2859fcdf)" style="fill: none; stroke-dasharray: 2.77,1.2; stroke-dashoffset: 0; stroke: #1414b4; stroke-opacity: 0.6; stroke-width: 0.75"/>
   </g>
   <g id="line2d_121">
    <path d="M 263.45 417.83 L 446.06 260.89 " clip-path="url(#p9b2859fcdf)" style="fill: none; stroke-dasharray: 2.77,1.2; stroke-dashoffset: 0; stroke: #1414b4; stroke-opacity: 0.6; stroke-width: 0.75"/>
   </g>
   <g id="line2d_122">
    <path d="M 263.45 417.83 L 581.24 324.34 " clip-path="url(#p9b2859fcdf)" style="fill: none; stroke-dasharray: 2.77,1.2; stroke-dashoffset: 0; stroke: #1414b4; stroke-opacity: 0.6; stroke-width: 0.75"/>
   </g>
   <g id="line2d_123">
    <path d="M 263.45 417.83 L 642.03 417.90 " clip-path="url(#p9b2859fcdf)" style="fill: none; stroke-dasharray: 2.77,1.2; stroke-dashoffset: 0; stroke: #1414b4; stroke-opacity: 0.6; stroke-width: 0.75"/>
   </g>
   <g id="line2d_124">
    <path d="M 421.45 300.45 L 421.64 279.99 " clip-path="url(#p9b2859fcdf)" style="fill: none; stroke-dasharray: 3.7,1.6; stroke-dashoffset: 0; stroke: #9400d3"/>
   </g>
   <g id="line2d_125">
        <g clip-path="url(#p9b2859fcdf)">
     <path d="M 0 2.35 C 0.62 2.35 1.22 2.10 1.66 1.66 C 2.10 1.22 2.35 0.62 2.35 0 C 2.35 -0.62 2.10 -1.22 1.66 -1.66 C 1.22 -2.10 0.62 -2.35 0 -2.35 C -0.62 -2.35 -1.22 -2.10 -1.66 -1.66 C -2.10 -1.22 -2.35 -0.62 -2.35 0 C -2.35 0.62 -2.10 1.22 -1.66 1.66 C -1.22 2.10 -0.62 2.35 0 2.35 z
" transform="translate(306.77 409.47)" style="fill: #d2922c; stroke: #000000; stroke-width: 0.6; stroke: #000000; stroke-width: 0.6"/>
    </g>
   </g>
   <g id="line2d_126">
        <g clip-path="url(#p9b2859fcdf)">
     <path d="M 0 2.35 C 0.62 2.35 1.22 2.10 1.66 1.66 C 2.10 1.22 2.35 0.62 2.35 0 C 2.35 -0.62 2.10 -1.22 1.66 -1.66 C 1.22 -2.10 0.62 -2.35 0 -2.35 C -0.62 -2.35 -1.22 -2.10 -1.66 -1.66 C -2.10 -1.22 -2.35 -0.62 -2.35 0 C -2.35 0.62 -2.10 1.22 -1.66 1.66 C -1.22 2.10 -0.62 2.35 0 2.35 z
" transform="translate(242.90 449.65)" style="fill: #1f77b4; stroke: #000000; stroke-width: 0.6; stroke: #000000; stroke-width: 0.6"/>
    </g>
   </g>
   <g id="line2d_127">
        <g clip-path="url(#p9b2859fcdf)">
     <path d="M 0 2.35 C 0.62 2.35 1.22 2.10 1.66 1.66 C 2.10 1.22 2.35 0.62 2.35 0 C 2.35 -0.62 2.10 -1.22 1.66 -1.66 C 1.22 -2.10 0.62 -2.35 0 -2.35 C -0.62 -2.35 -1.22 -2.10 -1.66 -1.66 C -2.10 -1.22 -2.35 -0.62 -2.35 0 C -2.35 0.62 -2.10 1.22 -1.66 1.66 C -1.22 2.10 -0.62 2.35 0 2.35 z
" transform="translate(224.23 373.91)" style="fill: #d1450f; stroke: #000000; stroke-width: 0.6; stroke: #000000; stroke-width: 0.6"/>
    </g>
   </g>
   <g id="line2d_128">
        <g clip-path="url(#p9b2859fcdf)">
     <path d="M 0 2.35 C 0.62 2.35 1.22 2.10 1.66 1.66 C 2.10 1.22 2.35 0.62 2.35 0 C 2.35 -0.62 2.10 -1.22 1.66 -1.66 C 1.22 -2.10 0.62 -2.35 0 -2.35 C -0.62 -2.35 -1.22 -2.10 -1.66 -1.66 C -2.10 -1.22 -2.35 -0.62 -2.35 0 C -2.35 0.62 -2.10 1.22 -1.66 1.66 C -1.22 2.10 -0.62 2.35 0 2.35 z
" transform="translate(579.03 472.14)" style="fill: #a95c40; stroke: #000000; stroke-width: 0.6; stroke: #000000; stroke-width: 0.6"/>
    </g>
   </g>
   <g id="line2d_129">
        <g clip-path="url(#p9b2859fcdf)">
     <path d="M -0 4.24 L 4.24 0 L 0 -4.24 L -4.24 -0 z
" transform="translate(421.45 300.45)" style="fill: #9400d3; stroke: #9400d3; stroke-linejoin: miter; stroke: #9400d3; stroke-linejoin: miter"/>
    </g>
   </g>
   <g id="line2d_130">
        <g clip-path="url(#p9b2859fcdf)">
     <path d="M -3.5 3.5 L 3.5 -3.5 M -3.5 -3.5 L 3.5 3.5 " transform="translate(421.64 279.99)" style="fill: #9400d3; stroke: #9400d3; stroke: #9400d3"/>
    </g>
   </g>
   <g id="text_22">
    <text style="font-style: italic; font-size: 16px; font-family: 'Liberation Sans', sans-serif; text-anchor: middle; fill: #262626" x="354.47" y="68.85" transform="rotate(-0 354.47 68.85)">Heliozentrische Umlaufbahn des Meteoroiden</text>
   </g>
   <g id="legend_1">
    <g id="line2d_131">
     <g>
      <path d="M 0 2.35 C 0.62 2.35 1.22 2.10 1.66 1.66 C 2.10 1.22 2.35 0.62 2.35 0 C 2.35 -0.62 2.10 -1.22 1.66 -1.66 C 1.22 -2.10 0.62 -2.35 0 -2.35 C -0.62 -2.35 -1.22 -2.10 -1.66 -1.66 C -2.10 -1.22 -2.35 -0.62 -2.35 0 C -2.35 0.62 -2.10 1.22 -1.66 1.66 C -1.22 2.10 -0.62 2.35 0 2.35 z
" transform="translate(40.76 572.22)" style="fill: #d2922c; stroke: #000000; stroke-width: 0.6; stroke: #000000; stroke-width: 0.6"/>
     </g>
    </g>
    <g id="text_23">
     <text style="font-size: 10px; font-family: 'Liberation Sans', sans-serif; text-anchor: start; fill: #262626" x="58.76" y="575.72" transform="rotate(-0 58.76 575.72)">Venus</text>
    </g>
    <g id="line2d_132">
     <g>
      <path d="M 0 2.35 C 0.62 2.35 1.22 2.10 1.66 1.66 C 2.10 1.22 2.35 0.62 2.35 0 C 2.35 -0.62 2.10 -1.22 1.66 -1.66 C 1.22 -2.10 0.62 -2.35 0 -2.35 C -0.62 -2.35 -1.22 -2.10 -1.66 -1.66 C -2.10 -1.22 -2.35 -0.62 -2.35 0 C -2.35 0.62 -2.10 1.22 -1.66 1.66 C -1.22 2.10 -0.62 2.35 0 2.35 z
" transform="translate(40.76 586.54)" style="fill: #1f77b4; stroke: #000000; stroke-width: 0.6; stroke: #000000; stroke-width: 0.6"/>
     </g>
    </g>
    <g id="text_24">
     <text style="font-size: 10px; font-family: 'Liberation Sans', sans-serif; text-anchor: start; fill: #262626" x="58.76" y="590.04" transform="rotate(-0 58.76 590.04)">Erde</text>
    </g>
    <g id="line2d_133">
     <g>
      <path d="M 0 2.35 C 0.62 2.35 1.22 2.10 1.66 1.66 C 2.10 1.22 2.35 0.62 2.35 0 C 2.35 -0.62 2.10 -1.22 1.66 -1.66 C 1.22 -2.10 0.62 -2.35 0 -2.35 C -0.62 -2.35 -1.22 -2.10 -1.66 -1.66 C -2.10 -1.22 -2.35 -0.62 -2.35 0 C -2.35 0.62 -2.10 1.22 -1.66 1.66 C -1.22 2.10 -0.62 2.35 0 2.35 z
" transform="translate(40.76 600.86)" style="fill: #d1450f; stroke: #000000; stroke-width: 0.6; stroke: #000000; stroke-width: 0.6"/>
     </g>
    </g>
    <g id="text_25">
     <text style="font-size: 10px; font-family: 'Liberation Sans', sans-serif; text-anchor: start; fill: #262626" x="58.76" y="604.36" transform="rotate(-0 58.76 604.36)">Mars</text>
    </g>
    <g id="line2d_134">
     <g>
      <path d="M 0 2.35 C 0.62 2.35 1.22 2.10 1.66 1.66 C 2.10 1.22 2.35 0.62 2.35 0 C 2.35 -0.62 2.10 -1.22 1.66 -1.66 C 1.22 -2.10 0.62 -2.35 0 -2.35 C -0.62 -2.35 -1.22 -2.10 -1.66 -1.66 C -2.10 -1.22 -2.35 -0.62 -2.35 0 C -2.35 0.62 -2.10 1.22 -1.66 1.66 C -1.22 2.10 -0.62 2.35 0 2.35 z
" transform="translate(40.76 615.19)" style="fill: #a95c40; stroke: #000000; stroke-width: 0.6; stroke: #000000; stroke-width: 0.6"/>
     </g>
    </g>
    <g id="text_26">
     <text style="font-size: 10px; font-family: 'Liberation Sans', sans-serif; text-anchor: start; fill: #262626" x="58.76" y="618.68" transform="rotate(-0 58.76 618.68)">Jupiter</text>
    </g>
    <g id="line2d_135">
     <g>
      <path d="M 0 4 C 1.06 4 2.07 3.57 2.82 2.82 C 3.57 2.07 4 1.06 4 0 C 4 -1.06 3.57 -2.07 2.82 -2.82 C 2.07 -3.57 1.06 -4 0 -4 C -1.06 -4 -2.07 -3.57 -2.82 -2.82 C -3.57 -2.07 -4 -1.06 -4 0 C -4 1.06 -3.57 2.07 -2.82 2.82 C -2.07 3.57 -1.06 4 0 4 z
" transform="translate(40.76 629.51)" style="fill: #ffff00; stroke: #000000; stroke-width: 0.8; stroke: #000000; stroke-width: 0.8"/>
     </g>
    </g>
    <g id="text_27">
     <text style="font-size: 10px; font-family: 'Liberation Sans', sans-serif; text-anchor: start; fill: #262626" x="58.76" y="633.00" transform="rotate(-0 58.76 633.00)">Sonne</text>
    </g>
    <g id="line2d_136">
     <g>
      <path d="M -0 4.24 L 4.24 0 L 0 -4.24 L -4.24 -0 z
" transform="translate(40.76 643.83)" style="fill: #9400d3; stroke: #9400d3; stroke-linejoin: miter; stroke: #9400d3; stroke-linejoin: miter"/>
     </g>
    </g>
    <g id="text_28">
     <text style="font-size: 10px; font-family: 'Liberation Sans', sans-serif; text-anchor: start; fill: #262626" x="58.76" y="647.32" transform="rotate(-0 58.76 647.32)">Aphel</text>
    </g>
    <g id="line2d_137">
     <path d="M 30.76 658.15 L 40.76 658.15 L 50.76 658.15 " style="fill: none; stroke: #008000; stroke-width: 1.5; stroke-linecap: round"/>
    </g>
    <g id="text_29">
     <text style="font-size: 10px; font-family: 'Liberation Sans', sans-serif; text-anchor: start; fill: #262626" x="58.76" y="661.65" transform="rotate(-0 58.76 661.65)">Meteoroidenbahn (über der Ekliptik)</text>
    </g>
    <g id="line2d_138">
     <path d="M 30.76 672.47 L 40.76 672.47 L 50.76 672.47 " style="fill: none; stroke: #ff0000; stroke-width: 1.5; stroke-linecap: round"/>
    </g>
    <g id="text_30">
     <text style="font-size: 10px; font-family: 'Liberation Sans', sans-serif; text-anchor: start; fill: #262626" x="58.76" y="675.97" transform="rotate(-0 58.76 675.97)">Meteoroidenbahn (unter der Ekliptik)</text>
    </g>
   </g>
  </g>
  <g id="text_31">
   <text style="font-size: 9px; font-family: 'Liberation Sans', sans-serif; text-anchor: start" x="308.52" y="408.81" transform="rotate(-0 308.52 408.81)">Venus</text>
  </g>
  <g id="text_32">
   <text style="font-size: 9px; font-family: 'Liberation Sans', sans-serif; text-anchor: start" x="221.76" y="371.16" transform="rotate(-0 221.76 371.16)">Mars</text>
  </g>
  <g id="text_33">
   <text style="font-size: 9px; font-family: 'Liberation Sans', sans-serif; text-anchor: start" x="241.56" y="450.93" transform="rotate(-0 241.56 450.93)">Erde</text>
  </g>
  <g id="text_34">
   <text style="font-size: 9px; font-family: 'Liberation Sans', sans-serif; text-anchor: start; fill: #262626" x="595.15" y="474.93" transform="rotate(-0 595.15 474.93)">Jupiter</text>
  </g>
 </g>
 <defs>
  <clipPath id="p9b2859fcdf">
   <rect x="21.76" y="21.61" width="665.43" height="665.43"/>
  </clipPath>
 </defs>
</svg>

</body></html>
